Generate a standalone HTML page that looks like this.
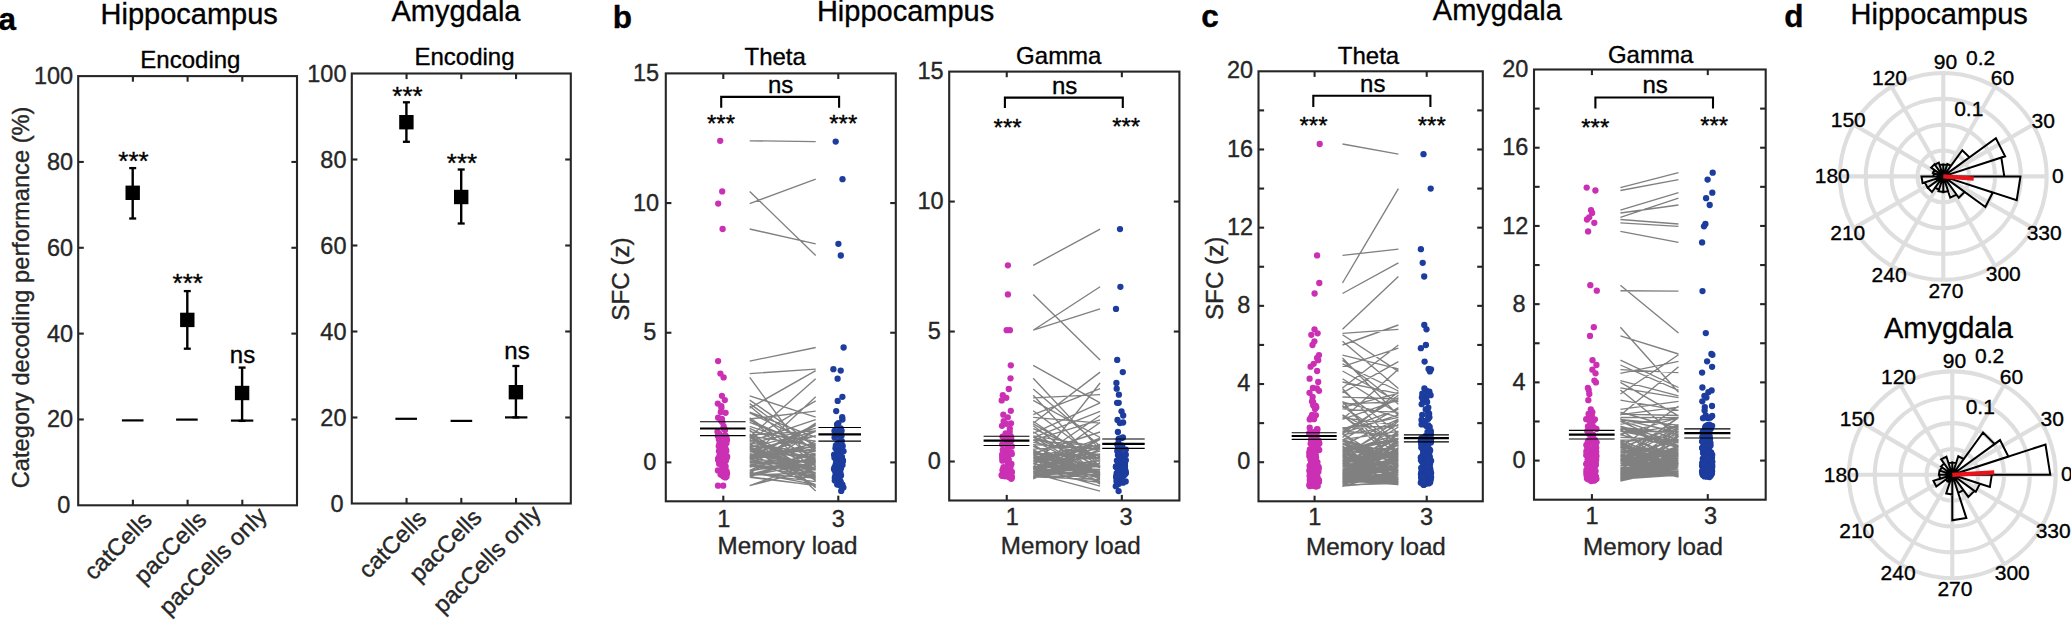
<!DOCTYPE html>
<html><head><meta charset="utf-8"><title>Figure</title>
<style>html,body{margin:0;padding:0;background:#fff;overflow:hidden}svg{display:block}text{font-family:"Liberation Sans",Arial,Helvetica,sans-serif;paint-order:stroke;stroke-width:0.35px;stroke-linejoin:round}</style>
</head><body>
<svg width="2071" height="620" viewBox="0 0 2071 620">
<rect width="2071" height="620" fill="#fff"/>
<rect x="78.20" y="76.10" width="218.80" height="429.20" fill="none" stroke="#262626" stroke-width="2.1"/>
<line x1="132.90" y1="505.30" x2="132.90" y2="499.70" stroke="#262626" stroke-width="2.1" stroke-linecap="butt"/>
<line x1="132.90" y1="76.10" x2="132.90" y2="81.70" stroke="#262626" stroke-width="2.1" stroke-linecap="butt"/>
<line x1="187.60" y1="505.30" x2="187.60" y2="499.70" stroke="#262626" stroke-width="2.1" stroke-linecap="butt"/>
<line x1="187.60" y1="76.10" x2="187.60" y2="81.70" stroke="#262626" stroke-width="2.1" stroke-linecap="butt"/>
<line x1="242.30" y1="505.30" x2="242.30" y2="499.70" stroke="#262626" stroke-width="2.1" stroke-linecap="butt"/>
<line x1="242.30" y1="76.10" x2="242.30" y2="81.70" stroke="#262626" stroke-width="2.1" stroke-linecap="butt"/>
<line x1="78.20" y1="419.46" x2="83.80" y2="419.46" stroke="#262626" stroke-width="2.1" stroke-linecap="butt"/>
<line x1="297.00" y1="419.46" x2="291.40" y2="419.46" stroke="#262626" stroke-width="2.1" stroke-linecap="butt"/>
<line x1="78.20" y1="333.62" x2="83.80" y2="333.62" stroke="#262626" stroke-width="2.1" stroke-linecap="butt"/>
<line x1="297.00" y1="333.62" x2="291.40" y2="333.62" stroke="#262626" stroke-width="2.1" stroke-linecap="butt"/>
<line x1="78.20" y1="247.78" x2="83.80" y2="247.78" stroke="#262626" stroke-width="2.1" stroke-linecap="butt"/>
<line x1="297.00" y1="247.78" x2="291.40" y2="247.78" stroke="#262626" stroke-width="2.1" stroke-linecap="butt"/>
<line x1="78.20" y1="161.94" x2="83.80" y2="161.94" stroke="#262626" stroke-width="2.1" stroke-linecap="butt"/>
<line x1="297.00" y1="161.94" x2="291.40" y2="161.94" stroke="#262626" stroke-width="2.1" stroke-linecap="butt"/>
<text x="70.30" y="513.30" font-size="23.5" text-anchor="end" fill="#262626" stroke="#262626">0</text>
<text x="73.10" y="427.46" font-size="23.5" text-anchor="end" fill="#262626" stroke="#262626">20</text>
<text x="73.10" y="341.62" font-size="23.5" text-anchor="end" fill="#262626" stroke="#262626">40</text>
<text x="73.10" y="255.78" font-size="23.5" text-anchor="end" fill="#262626" stroke="#262626">60</text>
<text x="73.10" y="169.94" font-size="23.5" text-anchor="end" fill="#262626" stroke="#262626">80</text>
<text x="73.10" y="84.10" font-size="23.5" text-anchor="end" fill="#262626" stroke="#262626">100</text>
<line x1="121.90" y1="420.40" x2="143.50" y2="420.40" stroke="#000" stroke-width="2.2" stroke-linecap="butt"/>
<line x1="176.10" y1="419.60" x2="197.70" y2="419.60" stroke="#000" stroke-width="2.2" stroke-linecap="butt"/>
<line x1="230.90" y1="420.60" x2="253.30" y2="420.60" stroke="#000" stroke-width="2.2" stroke-linecap="butt"/>
<line x1="132.70" y1="168.10" x2="132.70" y2="218.50" stroke="#000" stroke-width="2.4" stroke-linecap="butt"/>
<line x1="129.20" y1="168.10" x2="136.20" y2="168.10" stroke="#000" stroke-width="2.3" stroke-linecap="butt"/>
<line x1="129.20" y1="218.50" x2="136.20" y2="218.50" stroke="#000" stroke-width="2.3" stroke-linecap="butt"/>
<rect x="125.50" y="185.60" width="14.4" height="14.4" fill="#000"/>
<line x1="187.30" y1="291.10" x2="187.30" y2="348.70" stroke="#000" stroke-width="2.4" stroke-linecap="butt"/>
<line x1="183.80" y1="291.10" x2="190.80" y2="291.10" stroke="#000" stroke-width="2.3" stroke-linecap="butt"/>
<line x1="183.80" y1="348.70" x2="190.80" y2="348.70" stroke="#000" stroke-width="2.3" stroke-linecap="butt"/>
<rect x="180.10" y="312.70" width="14.4" height="14.4" fill="#000"/>
<line x1="242.10" y1="367.60" x2="242.10" y2="420.90" stroke="#000" stroke-width="2.4" stroke-linecap="butt"/>
<line x1="238.60" y1="367.60" x2="245.60" y2="367.60" stroke="#000" stroke-width="2.3" stroke-linecap="butt"/>
<line x1="238.60" y1="420.90" x2="245.60" y2="420.90" stroke="#000" stroke-width="2.3" stroke-linecap="butt"/>
<rect x="234.90" y="385.80" width="14.4" height="14.4" fill="#000"/>
<text x="133.50" y="170.00" font-size="26" text-anchor="middle" fill="#000" stroke="#000">***</text>
<text x="187.80" y="292.30" font-size="26" text-anchor="middle" fill="#000" stroke="#000">***</text>
<text x="242.50" y="362.80" font-size="24" text-anchor="middle" fill="#000" stroke="#000">ns</text>
<text x="190.40" y="67.70" font-size="24.0" text-anchor="middle" fill="#000" stroke="#000">Encoding</text>
<text x="153.30" y="521.70" font-size="23.7" text-anchor="end" fill="#262626" stroke="#262626" transform="rotate(-45 153.30 521.70)">catCells</text>
<text x="208.00" y="521.20" font-size="23.7" text-anchor="end" fill="#262626" stroke="#262626" transform="rotate(-45 208.00 521.20)">pacCells</text>
<text x="268.30" y="517.00" font-size="23.7" text-anchor="end" fill="#262626" stroke="#262626" transform="rotate(-45 268.30 517.00)">pacCells only</text>
<text x="29.2" y="488.3" font-size="23.7" fill="#262626" stroke="#262626" transform="rotate(-90 29.2 488.3)">Category decoding performance (%)</text>
<rect x="351.80" y="73.50" width="219.00" height="430.00" fill="none" stroke="#262626" stroke-width="2.1"/>
<line x1="406.55" y1="503.50" x2="406.55" y2="497.90" stroke="#262626" stroke-width="2.1" stroke-linecap="butt"/>
<line x1="406.55" y1="73.50" x2="406.55" y2="79.10" stroke="#262626" stroke-width="2.1" stroke-linecap="butt"/>
<line x1="461.30" y1="503.50" x2="461.30" y2="497.90" stroke="#262626" stroke-width="2.1" stroke-linecap="butt"/>
<line x1="461.30" y1="73.50" x2="461.30" y2="79.10" stroke="#262626" stroke-width="2.1" stroke-linecap="butt"/>
<line x1="516.05" y1="503.50" x2="516.05" y2="497.90" stroke="#262626" stroke-width="2.1" stroke-linecap="butt"/>
<line x1="516.05" y1="73.50" x2="516.05" y2="79.10" stroke="#262626" stroke-width="2.1" stroke-linecap="butt"/>
<line x1="351.80" y1="417.50" x2="357.40" y2="417.50" stroke="#262626" stroke-width="2.1" stroke-linecap="butt"/>
<line x1="570.80" y1="417.50" x2="565.20" y2="417.50" stroke="#262626" stroke-width="2.1" stroke-linecap="butt"/>
<line x1="351.80" y1="331.50" x2="357.40" y2="331.50" stroke="#262626" stroke-width="2.1" stroke-linecap="butt"/>
<line x1="570.80" y1="331.50" x2="565.20" y2="331.50" stroke="#262626" stroke-width="2.1" stroke-linecap="butt"/>
<line x1="351.80" y1="245.50" x2="357.40" y2="245.50" stroke="#262626" stroke-width="2.1" stroke-linecap="butt"/>
<line x1="570.80" y1="245.50" x2="565.20" y2="245.50" stroke="#262626" stroke-width="2.1" stroke-linecap="butt"/>
<line x1="351.80" y1="159.50" x2="357.40" y2="159.50" stroke="#262626" stroke-width="2.1" stroke-linecap="butt"/>
<line x1="570.80" y1="159.50" x2="565.20" y2="159.50" stroke="#262626" stroke-width="2.1" stroke-linecap="butt"/>
<text x="343.70" y="511.50" font-size="23.5" text-anchor="end" fill="#262626" stroke="#262626">0</text>
<text x="346.50" y="425.50" font-size="23.5" text-anchor="end" fill="#262626" stroke="#262626">20</text>
<text x="346.50" y="339.50" font-size="23.5" text-anchor="end" fill="#262626" stroke="#262626">40</text>
<text x="346.50" y="253.50" font-size="23.5" text-anchor="end" fill="#262626" stroke="#262626">60</text>
<text x="346.50" y="167.50" font-size="23.5" text-anchor="end" fill="#262626" stroke="#262626">80</text>
<text x="346.50" y="81.50" font-size="23.5" text-anchor="end" fill="#262626" stroke="#262626">100</text>
<line x1="395.40" y1="418.80" x2="417.00" y2="418.80" stroke="#000" stroke-width="2.2" stroke-linecap="butt"/>
<line x1="450.60" y1="420.90" x2="472.20" y2="420.90" stroke="#000" stroke-width="2.2" stroke-linecap="butt"/>
<line x1="505.00" y1="417.40" x2="527.40" y2="417.40" stroke="#000" stroke-width="2.2" stroke-linecap="butt"/>
<line x1="406.40" y1="102.30" x2="406.40" y2="141.80" stroke="#000" stroke-width="2.4" stroke-linecap="butt"/>
<line x1="402.90" y1="102.30" x2="409.90" y2="102.30" stroke="#000" stroke-width="2.3" stroke-linecap="butt"/>
<line x1="402.90" y1="141.80" x2="409.90" y2="141.80" stroke="#000" stroke-width="2.3" stroke-linecap="butt"/>
<rect x="399.20" y="115.00" width="14.4" height="14.4" fill="#000"/>
<line x1="461.20" y1="169.50" x2="461.20" y2="223.50" stroke="#000" stroke-width="2.4" stroke-linecap="butt"/>
<line x1="457.70" y1="169.50" x2="464.70" y2="169.50" stroke="#000" stroke-width="2.3" stroke-linecap="butt"/>
<line x1="457.70" y1="223.50" x2="464.70" y2="223.50" stroke="#000" stroke-width="2.3" stroke-linecap="butt"/>
<rect x="454.00" y="189.80" width="14.4" height="14.4" fill="#000"/>
<line x1="515.90" y1="366.00" x2="515.90" y2="417.40" stroke="#000" stroke-width="2.4" stroke-linecap="butt"/>
<line x1="512.40" y1="366.00" x2="519.40" y2="366.00" stroke="#000" stroke-width="2.3" stroke-linecap="butt"/>
<line x1="512.40" y1="417.40" x2="519.40" y2="417.40" stroke="#000" stroke-width="2.3" stroke-linecap="butt"/>
<rect x="508.70" y="385.00" width="14.4" height="14.4" fill="#000"/>
<text x="407.50" y="104.50" font-size="26" text-anchor="middle" fill="#000" stroke="#000">***</text>
<text x="462.00" y="171.50" font-size="26" text-anchor="middle" fill="#000" stroke="#000">***</text>
<text x="517.00" y="358.70" font-size="24" text-anchor="middle" fill="#000" stroke="#000">ns</text>
<text x="464.50" y="64.70" font-size="24.0" text-anchor="middle" fill="#000" stroke="#000">Encoding</text>
<text x="427.90" y="519.80" font-size="23.7" text-anchor="end" fill="#262626" stroke="#262626" transform="rotate(-45 427.90 519.80)">catCells</text>
<text x="483.20" y="518.90" font-size="23.7" text-anchor="end" fill="#262626" stroke="#262626" transform="rotate(-45 483.20 518.90)">pacCells</text>
<text x="542.50" y="515.20" font-size="23.7" text-anchor="end" fill="#262626" stroke="#262626" transform="rotate(-45 542.50 515.20)">pacCells only</text>
<text x="189.20" y="23.60" font-size="29.0" text-anchor="middle" fill="#000" stroke="#000">Hippocampus</text>
<text x="456.00" y="21.20" font-size="29.0" text-anchor="middle" fill="#000" stroke="#000">Amygdala</text>
<text x="905.60" y="20.70" font-size="29.0" text-anchor="middle" fill="#000" stroke="#000">Hippocampus</text>
<text x="1497.30" y="20.30" font-size="29.0" text-anchor="middle" fill="#000" stroke="#000">Amygdala</text>
<text x="1939.20" y="24.20" font-size="29.0" text-anchor="middle" fill="#000" stroke="#000">Hippocampus</text>
<text x="-1.50" y="29.80" font-size="31.5" text-anchor="start" fill="#000" stroke="#000" font-weight="bold">a</text>
<text x="612.80" y="27.70" font-size="31.5" text-anchor="start" fill="#000" stroke="#000" font-weight="bold">b</text>
<text x="1201.30" y="27.10" font-size="31.5" text-anchor="start" fill="#000" stroke="#000" font-weight="bold">c</text>
<text x="1784.30" y="27.40" font-size="31.5" text-anchor="start" fill="#000" stroke="#000" font-weight="bold">d</text>
<path d="M749.7 361.1L815.7 347.5M749.7 373.6L815.7 369.2M749.7 140.8L815.7 141.6M749.7 203.6L815.7 179.2M749.7 191.4L815.7 255.5M749.7 229.0L815.7 243.8M749.7 477.4L815.7 485.3M749.7 442.9L815.7 453.9M749.7 460.6L815.7 468.8M749.7 473.4L815.7 430.2M749.7 462.2L815.7 461.9M749.7 459.7L815.7 462.1M749.7 475.8L815.7 463.0M749.7 473.4L815.7 481.6M749.7 463.8L815.7 472.7M749.7 458.6L815.7 479.5M749.7 434.0L815.7 468.9M749.7 472.2L815.7 484.6M749.7 460.6L815.7 484.6M749.7 453.9L815.7 463.1M749.7 447.0L815.7 470.0M749.7 473.3L815.7 478.2M749.7 458.1L815.7 443.5M749.7 459.6L815.7 431.4M749.7 406.1L815.7 460.3M749.7 435.4L815.7 473.7M749.7 449.6L815.7 435.7M749.7 454.2L815.7 454.7M749.7 476.4L815.7 450.0M749.7 429.9L815.7 490.9M749.7 443.3L815.7 428.4M749.7 451.0L815.7 457.3M749.7 412.1L815.7 437.4M749.7 460.5L815.7 468.1M749.7 465.0L815.7 470.0M749.7 467.0L815.7 455.4M749.7 439.4L815.7 400.9M749.7 485.7L815.7 461.5M749.7 444.8L815.7 457.8M749.7 457.6L815.7 435.6M749.7 470.7L815.7 458.0M749.7 446.2L815.7 450.8M749.7 471.2L815.7 459.4M749.7 435.6L815.7 480.6M749.7 475.3L815.7 472.3M749.7 443.7L815.7 477.3M749.7 446.2L815.7 451.5M749.7 451.2L815.7 467.9M749.7 456.4L815.7 424.4M749.7 451.6L815.7 463.8M749.7 465.5L815.7 476.9M749.7 485.7L815.7 468.5M749.7 466.5L815.7 467.1M749.7 447.8L815.7 487.1M749.7 474.5L815.7 456.8M749.7 457.2L815.7 470.1M749.7 458.9L815.7 448.5M749.7 377.4L815.7 467.0M749.7 449.4L815.7 469.8M749.7 419.3L815.7 469.7M749.7 426.4L815.7 448.2M749.7 470.4L815.7 441.2M749.7 452.1L815.7 430.7M749.7 420.4L815.7 448.7M749.7 441.6L815.7 419.6M749.7 458.0L815.7 396.8M749.7 455.6L815.7 463.2M749.7 436.8L815.7 475.4M749.7 449.9L815.7 458.9M749.7 447.5L815.7 476.3M749.7 422.3L815.7 447.8M749.7 447.3L815.7 431.7M749.7 456.4L815.7 446.1M749.7 428.4L815.7 457.7M749.7 395.8L815.7 417.2M749.7 463.2L815.7 465.0M749.7 408.1L815.7 370.6M749.7 455.8L815.7 477.7M749.7 437.1L815.7 378.7M749.7 435.9L815.7 445.9M749.7 476.6L815.7 485.7M749.7 440.0L815.7 461.1M749.7 419.0L815.7 411.1M749.7 417.7L815.7 463.2M749.7 459.4L815.7 446.0M749.7 431.7L815.7 441.1M749.7 400.1L815.7 445.5M749.7 435.0L815.7 430.9M749.7 476.5L815.7 456.7M749.7 457.7L815.7 425.3M749.7 403.6L815.7 451.2M749.7 436.9L815.7 487.6M749.7 465.9L815.7 423.1M749.7 412.8L815.7 445.3" stroke="#808080" stroke-width="1.35" fill="none"/>
<g fill="#cb30b4"><circle cx="718.1" cy="361.1" r="3.15"/><circle cx="720.4" cy="373.6" r="3.15"/><circle cx="720.2" cy="140.8" r="3.15"/><circle cx="718.2" cy="203.6" r="3.15"/><circle cx="722.2" cy="191.4" r="3.15"/><circle cx="722.6" cy="229.0" r="3.15"/><circle cx="725.4" cy="477.4" r="3.15"/><circle cx="720.0" cy="442.9" r="3.15"/><circle cx="725.7" cy="460.6" r="3.15"/><circle cx="727.0" cy="473.4" r="3.15"/><circle cx="719.2" cy="462.2" r="3.15"/><circle cx="718.2" cy="459.7" r="3.15"/><circle cx="723.0" cy="475.8" r="3.15"/><circle cx="726.0" cy="473.4" r="3.15"/><circle cx="719.1" cy="463.8" r="3.15"/><circle cx="718.1" cy="458.6" r="3.15"/><circle cx="719.3" cy="434.0" r="3.15"/><circle cx="725.4" cy="472.2" r="3.15"/><circle cx="718.6" cy="460.6" r="3.15"/><circle cx="721.5" cy="453.9" r="3.15"/><circle cx="721.5" cy="447.0" r="3.15"/><circle cx="724.8" cy="473.3" r="3.15"/><circle cx="720.8" cy="458.1" r="3.15"/><circle cx="719.0" cy="459.6" r="3.15"/><circle cx="721.3" cy="406.1" r="3.15"/><circle cx="725.4" cy="435.4" r="3.15"/><circle cx="719.8" cy="449.6" r="3.15"/><circle cx="722.9" cy="454.2" r="3.15"/><circle cx="723.5" cy="476.4" r="3.15"/><circle cx="725.0" cy="429.9" r="3.15"/><circle cx="726.4" cy="443.3" r="3.15"/><circle cx="726.3" cy="451.0" r="3.15"/><circle cx="720.8" cy="412.1" r="3.15"/><circle cx="725.8" cy="460.5" r="3.15"/><circle cx="722.8" cy="465.0" r="3.15"/><circle cx="725.3" cy="467.0" r="3.15"/><circle cx="718.9" cy="439.4" r="3.15"/><circle cx="718.0" cy="485.7" r="3.15"/><circle cx="723.5" cy="444.8" r="3.15"/><circle cx="727.0" cy="457.6" r="3.15"/><circle cx="720.4" cy="470.7" r="3.15"/><circle cx="718.8" cy="446.2" r="3.15"/><circle cx="726.5" cy="471.2" r="3.15"/><circle cx="724.5" cy="435.6" r="3.15"/><circle cx="722.6" cy="475.3" r="3.15"/><circle cx="719.5" cy="443.7" r="3.15"/><circle cx="722.8" cy="446.2" r="3.15"/><circle cx="719.0" cy="451.2" r="3.15"/><circle cx="727.1" cy="456.4" r="3.15"/><circle cx="725.0" cy="451.6" r="3.15"/><circle cx="721.9" cy="465.5" r="3.15"/><circle cx="723.2" cy="485.7" r="3.15"/><circle cx="725.1" cy="466.5" r="3.15"/><circle cx="725.2" cy="447.8" r="3.15"/><circle cx="720.6" cy="474.5" r="3.15"/><circle cx="722.5" cy="457.2" r="3.15"/><circle cx="719.2" cy="458.9" r="3.15"/><circle cx="723.6" cy="377.4" r="3.15"/><circle cx="723.1" cy="449.4" r="3.15"/><circle cx="721.3" cy="419.3" r="3.15"/><circle cx="723.7" cy="426.4" r="3.15"/><circle cx="717.9" cy="470.4" r="3.15"/><circle cx="725.4" cy="452.1" r="3.15"/><circle cx="721.0" cy="420.4" r="3.15"/><circle cx="724.4" cy="441.6" r="3.15"/><circle cx="722.2" cy="458.0" r="3.15"/><circle cx="720.6" cy="455.6" r="3.15"/><circle cx="720.3" cy="436.8" r="3.15"/><circle cx="726.0" cy="449.9" r="3.15"/><circle cx="724.2" cy="447.5" r="3.15"/><circle cx="722.4" cy="422.3" r="3.15"/><circle cx="721.6" cy="447.3" r="3.15"/><circle cx="723.5" cy="456.4" r="3.15"/><circle cx="723.6" cy="428.4" r="3.15"/><circle cx="721.9" cy="395.8" r="3.15"/><circle cx="723.0" cy="463.2" r="3.15"/><circle cx="721.4" cy="408.1" r="3.15"/><circle cx="719.4" cy="455.8" r="3.15"/><circle cx="726.4" cy="437.1" r="3.15"/><circle cx="717.9" cy="435.9" r="3.15"/><circle cx="726.5" cy="476.6" r="3.15"/><circle cx="727.0" cy="440.0" r="3.15"/><circle cx="721.9" cy="419.0" r="3.15"/><circle cx="718.1" cy="417.7" r="3.15"/><circle cx="723.6" cy="459.4" r="3.15"/><circle cx="717.5" cy="431.7" r="3.15"/><circle cx="724.8" cy="400.1" r="3.15"/><circle cx="718.7" cy="435.0" r="3.15"/><circle cx="724.6" cy="476.5" r="3.15"/><circle cx="721.1" cy="457.7" r="3.15"/><circle cx="717.8" cy="403.6" r="3.15"/><circle cx="725.5" cy="436.9" r="3.15"/><circle cx="725.4" cy="465.9" r="3.15"/><circle cx="725.6" cy="412.8" r="3.15"/></g>
<g fill="#1c3c9e"><circle cx="843.6" cy="347.5" r="3.15"/><circle cx="833.4" cy="369.2" r="3.15"/><circle cx="835.7" cy="141.6" r="3.15"/><circle cx="842.5" cy="179.2" r="3.15"/><circle cx="840.8" cy="255.5" r="3.15"/><circle cx="838.4" cy="243.8" r="3.15"/><circle cx="839.9" cy="485.3" r="3.15"/><circle cx="838.3" cy="453.9" r="3.15"/><circle cx="834.0" cy="468.8" r="3.15"/><circle cx="839.4" cy="430.2" r="3.15"/><circle cx="841.7" cy="461.9" r="3.15"/><circle cx="837.9" cy="462.1" r="3.15"/><circle cx="836.4" cy="463.0" r="3.15"/><circle cx="840.7" cy="481.6" r="3.15"/><circle cx="835.5" cy="472.7" r="3.15"/><circle cx="839.5" cy="479.5" r="3.15"/><circle cx="839.2" cy="468.9" r="3.15"/><circle cx="842.4" cy="484.6" r="3.15"/><circle cx="837.2" cy="484.6" r="3.15"/><circle cx="837.7" cy="463.1" r="3.15"/><circle cx="838.4" cy="470.0" r="3.15"/><circle cx="836.9" cy="478.2" r="3.15"/><circle cx="837.7" cy="443.5" r="3.15"/><circle cx="840.1" cy="431.4" r="3.15"/><circle cx="842.8" cy="460.3" r="3.15"/><circle cx="836.2" cy="473.7" r="3.15"/><circle cx="841.5" cy="435.7" r="3.15"/><circle cx="834.1" cy="454.7" r="3.15"/><circle cx="837.8" cy="450.0" r="3.15"/><circle cx="841.2" cy="490.9" r="3.15"/><circle cx="840.7" cy="428.4" r="3.15"/><circle cx="836.7" cy="457.3" r="3.15"/><circle cx="834.6" cy="437.4" r="3.15"/><circle cx="835.5" cy="468.1" r="3.15"/><circle cx="838.9" cy="470.0" r="3.15"/><circle cx="837.7" cy="455.4" r="3.15"/><circle cx="837.7" cy="400.9" r="3.15"/><circle cx="836.9" cy="461.5" r="3.15"/><circle cx="834.5" cy="457.8" r="3.15"/><circle cx="839.1" cy="435.6" r="3.15"/><circle cx="842.0" cy="458.0" r="3.15"/><circle cx="837.1" cy="450.8" r="3.15"/><circle cx="836.3" cy="459.4" r="3.15"/><circle cx="834.8" cy="480.6" r="3.15"/><circle cx="840.3" cy="472.3" r="3.15"/><circle cx="837.1" cy="477.3" r="3.15"/><circle cx="839.7" cy="451.5" r="3.15"/><circle cx="837.9" cy="467.9" r="3.15"/><circle cx="837.1" cy="424.4" r="3.15"/><circle cx="835.9" cy="463.8" r="3.15"/><circle cx="839.0" cy="476.9" r="3.15"/><circle cx="840.9" cy="468.5" r="3.15"/><circle cx="840.7" cy="467.1" r="3.15"/><circle cx="842.5" cy="487.1" r="3.15"/><circle cx="841.9" cy="456.8" r="3.15"/><circle cx="836.5" cy="470.1" r="3.15"/><circle cx="841.3" cy="448.5" r="3.15"/><circle cx="834.7" cy="467.0" r="3.15"/><circle cx="834.4" cy="469.8" r="3.15"/><circle cx="839.5" cy="469.7" r="3.15"/><circle cx="835.5" cy="448.2" r="3.15"/><circle cx="839.5" cy="441.2" r="3.15"/><circle cx="841.6" cy="430.7" r="3.15"/><circle cx="839.5" cy="448.7" r="3.15"/><circle cx="842.4" cy="419.6" r="3.15"/><circle cx="842.4" cy="396.8" r="3.15"/><circle cx="836.1" cy="463.2" r="3.15"/><circle cx="841.0" cy="475.4" r="3.15"/><circle cx="838.5" cy="458.9" r="3.15"/><circle cx="835.3" cy="476.3" r="3.15"/><circle cx="838.2" cy="447.8" r="3.15"/><circle cx="835.8" cy="431.7" r="3.15"/><circle cx="840.5" cy="446.1" r="3.15"/><circle cx="841.1" cy="457.7" r="3.15"/><circle cx="842.2" cy="417.2" r="3.15"/><circle cx="842.5" cy="465.0" r="3.15"/><circle cx="840.7" cy="370.6" r="3.15"/><circle cx="834.8" cy="477.7" r="3.15"/><circle cx="837.6" cy="378.7" r="3.15"/><circle cx="839.9" cy="445.9" r="3.15"/><circle cx="841.4" cy="485.7" r="3.15"/><circle cx="843.0" cy="461.1" r="3.15"/><circle cx="836.2" cy="411.1" r="3.15"/><circle cx="836.6" cy="463.2" r="3.15"/><circle cx="842.7" cy="446.0" r="3.15"/><circle cx="841.8" cy="441.1" r="3.15"/><circle cx="840.6" cy="445.5" r="3.15"/><circle cx="834.5" cy="430.9" r="3.15"/><circle cx="840.2" cy="456.7" r="3.15"/><circle cx="837.3" cy="425.3" r="3.15"/><circle cx="843.5" cy="451.2" r="3.15"/><circle cx="843.4" cy="487.6" r="3.15"/><circle cx="838.4" cy="423.1" r="3.15"/><circle cx="835.9" cy="445.3" r="3.15"/></g>
<line x1="700.00" y1="421.70" x2="745.60" y2="421.70" stroke="#000" stroke-width="1.15" stroke-linecap="butt"/>
<line x1="700.00" y1="428.50" x2="745.60" y2="428.50" stroke="#000" stroke-width="2.2" stroke-linecap="butt"/>
<line x1="700.00" y1="435.60" x2="745.60" y2="435.60" stroke="#000" stroke-width="1.15" stroke-linecap="butt"/>
<line x1="818.40" y1="427.50" x2="861.00" y2="427.50" stroke="#000" stroke-width="1.15" stroke-linecap="butt"/>
<line x1="818.40" y1="434.30" x2="861.00" y2="434.30" stroke="#000" stroke-width="2.2" stroke-linecap="butt"/>
<line x1="818.40" y1="441.10" x2="861.00" y2="441.10" stroke="#000" stroke-width="1.15" stroke-linecap="butt"/>
<rect x="665.80" y="73.40" width="230.00" height="427.90" fill="none" stroke="#262626" stroke-width="2.1"/>
<line x1="723.30" y1="501.30" x2="723.30" y2="495.70" stroke="#262626" stroke-width="2.1" stroke-linecap="butt"/>
<line x1="723.30" y1="73.40" x2="723.30" y2="79.00" stroke="#262626" stroke-width="2.1" stroke-linecap="butt"/>
<line x1="838.30" y1="501.30" x2="838.30" y2="495.70" stroke="#262626" stroke-width="2.1" stroke-linecap="butt"/>
<line x1="838.30" y1="73.40" x2="838.30" y2="79.00" stroke="#262626" stroke-width="2.1" stroke-linecap="butt"/>
<line x1="665.80" y1="462.40" x2="671.40" y2="462.40" stroke="#262626" stroke-width="2.1" stroke-linecap="butt"/>
<line x1="895.80" y1="462.40" x2="890.20" y2="462.40" stroke="#262626" stroke-width="2.1" stroke-linecap="butt"/>
<line x1="665.80" y1="332.73" x2="671.40" y2="332.73" stroke="#262626" stroke-width="2.1" stroke-linecap="butt"/>
<line x1="895.80" y1="332.73" x2="890.20" y2="332.73" stroke="#262626" stroke-width="2.1" stroke-linecap="butt"/>
<line x1="665.80" y1="203.07" x2="671.40" y2="203.07" stroke="#262626" stroke-width="2.1" stroke-linecap="butt"/>
<line x1="895.80" y1="203.07" x2="890.20" y2="203.07" stroke="#262626" stroke-width="2.1" stroke-linecap="butt"/>
<text x="656.30" y="470.10" font-size="23.5" text-anchor="end" fill="#262626" stroke="#262626">0</text>
<text x="656.30" y="340.43" font-size="23.5" text-anchor="end" fill="#262626" stroke="#262626">5</text>
<text x="659.10" y="210.77" font-size="23.5" text-anchor="end" fill="#262626" stroke="#262626">10</text>
<text x="659.10" y="81.10" font-size="23.5" text-anchor="end" fill="#262626" stroke="#262626">15</text>
<text x="775.20" y="64.50" font-size="24.0" text-anchor="middle" fill="#000" stroke="#000">Theta</text>
<text x="723.90" y="527.00" font-size="23.5" text-anchor="middle" fill="#262626" stroke="#262626">1</text>
<text x="838.30" y="527.00" font-size="23.5" text-anchor="middle" fill="#262626" stroke="#262626">3</text>
<text x="787.50" y="554.30" font-size="24.2" text-anchor="middle" fill="#262626" stroke="#262626">Memory load</text>
<path d="M721.2 107.8V96.9H839.1V107.8" stroke="#000" stroke-width="2.1" fill="none"/>
<text x="780.60" y="92.90" font-size="24" text-anchor="middle" fill="#000" stroke="#000">ns</text>
<text x="721.00" y="132.10" font-size="24" text-anchor="middle" fill="#000" stroke="#000">***</text>
<text x="843.30" y="132.10" font-size="24" text-anchor="middle" fill="#000" stroke="#000">***</text>
<text x="629.2" y="320.7" font-size="24.2" fill="#262626" stroke="#262626" transform="rotate(-90 629.2 320.7)">SFC (z)</text>
<path d="M1033.2 265.3L1100.1 229.1M1033.2 294.4L1100.1 359.9M1033.2 330.2L1100.1 286.8M1033.2 330.2L1100.1 308.9M1033.2 473.2L1100.1 474.8M1033.2 470.5L1100.1 475.8M1033.2 470.2L1100.1 466.4M1033.2 469.2L1100.1 469.6M1033.2 450.9L1100.1 472.9M1033.2 473.7L1100.1 482.7M1033.2 475.9L1100.1 464.5M1033.2 467.2L1100.1 486.2M1033.2 473.4L1100.1 491.1M1033.2 446.4L1100.1 476.0M1033.2 452.6L1100.1 475.1M1033.2 476.9L1100.1 479.6M1033.2 454.1L1100.1 458.5M1033.2 456.0L1100.1 473.8M1033.2 474.4L1100.1 459.6M1033.2 444.5L1100.1 484.1M1033.2 469.6L1100.1 471.1M1033.2 466.9L1100.1 451.0M1033.2 477.0L1100.1 464.0M1033.2 455.8L1100.1 481.4M1033.2 478.1L1100.1 444.7M1033.2 463.9L1100.1 470.7M1033.2 469.8L1100.1 474.8M1033.2 477.4L1100.1 474.3M1033.2 475.3L1100.1 471.9M1033.2 473.5L1100.1 472.1M1033.2 455.3L1100.1 473.1M1033.2 475.2L1100.1 470.1M1033.2 458.1L1100.1 478.1M1033.2 440.2L1100.1 475.1M1033.2 476.3L1100.1 469.4M1033.2 467.6L1100.1 460.6M1033.2 466.5L1100.1 481.5M1033.2 478.8L1100.1 449.0M1033.2 457.6L1100.1 448.9M1033.2 437.4L1100.1 455.1M1033.2 475.2L1100.1 439.5M1033.2 440.4L1100.1 446.4M1033.2 446.0L1100.1 475.2M1033.2 468.7L1100.1 454.7M1033.2 461.1L1100.1 473.9M1033.2 463.7L1100.1 438.1M1033.2 468.5L1100.1 463.5M1033.2 468.3L1100.1 447.2M1033.2 472.4L1100.1 463.5M1033.2 428.6L1100.1 457.2M1033.2 421.2L1100.1 466.4M1033.2 459.9L1100.1 458.3M1033.2 449.8L1100.1 479.5M1033.2 471.9L1100.1 466.4M1033.2 454.4L1100.1 454.7M1033.2 389.0L1100.1 445.9M1033.2 455.2L1100.1 470.8M1033.2 458.0L1100.1 464.1M1033.2 475.6L1100.1 476.9M1033.2 442.3L1100.1 455.5M1033.2 461.8L1100.1 444.4M1033.2 444.6L1100.1 448.6M1033.2 425.8L1100.1 474.9M1033.2 455.1L1100.1 447.2M1033.2 453.5L1100.1 432.0M1033.2 467.3L1100.1 453.8M1033.2 436.7L1100.1 466.6M1033.2 460.0L1100.1 472.6M1033.2 471.6L1100.1 438.7M1033.2 437.1L1100.1 475.0M1033.2 452.4L1100.1 467.7M1033.2 431.8L1100.1 475.0M1033.2 435.8L1100.1 446.8M1033.2 469.1L1100.1 422.5M1033.2 440.2L1100.1 419.9M1033.2 449.1L1100.1 445.6M1033.2 467.4L1100.1 383.0M1033.2 437.6L1100.1 411.3M1033.2 466.8L1100.1 469.4M1033.2 410.8L1100.1 460.2M1033.2 460.7L1100.1 415.5M1033.2 433.3L1100.1 402.8M1033.2 454.2L1100.1 457.7M1033.2 400.4L1100.1 437.5M1033.2 423.8L1100.1 462.1M1033.2 378.3L1100.1 449.6M1033.2 397.8L1100.1 394.7M1033.2 417.3L1100.1 423.1M1033.2 365.3L1100.1 402.8M1033.2 395.2L1100.1 467.0M1033.2 414.7L1100.1 388.7M1033.2 423.3L1100.1 372.1" stroke="#808080" stroke-width="1.35" fill="none"/>
<g fill="#cb30b4"><circle cx="1007.9" cy="265.3" r="3.15"/><circle cx="1007.9" cy="294.4" r="3.15"/><circle cx="1006.7" cy="330.2" r="3.15"/><circle cx="1009.9" cy="330.2" r="3.15"/><circle cx="1005.2" cy="473.2" r="3.15"/><circle cx="1002.8" cy="470.5" r="3.15"/><circle cx="1003.0" cy="470.2" r="3.15"/><circle cx="1009.6" cy="469.2" r="3.15"/><circle cx="1006.9" cy="450.9" r="3.15"/><circle cx="1004.2" cy="473.7" r="3.15"/><circle cx="1002.4" cy="475.9" r="3.15"/><circle cx="1003.5" cy="467.2" r="3.15"/><circle cx="1011.0" cy="473.4" r="3.15"/><circle cx="1011.8" cy="446.4" r="3.15"/><circle cx="1008.5" cy="452.6" r="3.15"/><circle cx="1011.8" cy="476.9" r="3.15"/><circle cx="1011.8" cy="454.1" r="3.15"/><circle cx="1002.5" cy="456.0" r="3.15"/><circle cx="1002.5" cy="474.4" r="3.15"/><circle cx="1010.2" cy="444.5" r="3.15"/><circle cx="1009.0" cy="469.6" r="3.15"/><circle cx="1008.7" cy="466.9" r="3.15"/><circle cx="1008.8" cy="477.0" r="3.15"/><circle cx="1003.0" cy="455.8" r="3.15"/><circle cx="1011.4" cy="478.1" r="3.15"/><circle cx="1011.4" cy="463.9" r="3.15"/><circle cx="1002.7" cy="469.8" r="3.15"/><circle cx="1011.5" cy="477.4" r="3.15"/><circle cx="1002.9" cy="475.3" r="3.15"/><circle cx="1007.4" cy="473.5" r="3.15"/><circle cx="1005.5" cy="455.3" r="3.15"/><circle cx="1001.6" cy="475.2" r="3.15"/><circle cx="1005.9" cy="458.1" r="3.15"/><circle cx="1011.4" cy="440.2" r="3.15"/><circle cx="1005.1" cy="476.3" r="3.15"/><circle cx="1010.1" cy="467.6" r="3.15"/><circle cx="1008.5" cy="466.5" r="3.15"/><circle cx="1011.3" cy="478.8" r="3.15"/><circle cx="1007.8" cy="457.6" r="3.15"/><circle cx="1006.8" cy="437.4" r="3.15"/><circle cx="1005.2" cy="475.2" r="3.15"/><circle cx="1007.9" cy="440.4" r="3.15"/><circle cx="1007.7" cy="446.0" r="3.15"/><circle cx="1008.4" cy="468.7" r="3.15"/><circle cx="1007.0" cy="461.1" r="3.15"/><circle cx="1007.9" cy="463.7" r="3.15"/><circle cx="1005.8" cy="468.5" r="3.15"/><circle cx="1007.1" cy="468.3" r="3.15"/><circle cx="1008.4" cy="472.4" r="3.15"/><circle cx="1009.8" cy="428.6" r="3.15"/><circle cx="1003.7" cy="421.2" r="3.15"/><circle cx="1003.6" cy="459.9" r="3.15"/><circle cx="1002.8" cy="449.8" r="3.15"/><circle cx="1011.9" cy="471.9" r="3.15"/><circle cx="1002.2" cy="454.4" r="3.15"/><circle cx="1008.8" cy="389.0" r="3.15"/><circle cx="1002.9" cy="455.2" r="3.15"/><circle cx="1002.2" cy="458.0" r="3.15"/><circle cx="1011.3" cy="475.6" r="3.15"/><circle cx="1007.4" cy="442.3" r="3.15"/><circle cx="1008.2" cy="461.8" r="3.15"/><circle cx="1002.2" cy="444.6" r="3.15"/><circle cx="1002.0" cy="425.8" r="3.15"/><circle cx="1006.9" cy="455.1" r="3.15"/><circle cx="1009.5" cy="453.5" r="3.15"/><circle cx="1006.8" cy="467.3" r="3.15"/><circle cx="1002.6" cy="436.7" r="3.15"/><circle cx="1008.8" cy="460.0" r="3.15"/><circle cx="1006.0" cy="471.6" r="3.15"/><circle cx="1011.2" cy="437.1" r="3.15"/><circle cx="1011.3" cy="452.4" r="3.15"/><circle cx="1009.7" cy="431.8" r="3.15"/><circle cx="1010.3" cy="435.8" r="3.15"/><circle cx="1010.1" cy="469.1" r="3.15"/><circle cx="1006.8" cy="440.2" r="3.15"/><circle cx="1007.7" cy="449.1" r="3.15"/><circle cx="1008.6" cy="467.4" r="3.15"/><circle cx="1004.1" cy="437.6" r="3.15"/><circle cx="1010.4" cy="466.8" r="3.15"/><circle cx="1010.8" cy="410.8" r="3.15"/><circle cx="1002.4" cy="460.7" r="3.15"/><circle cx="1005.6" cy="433.3" r="3.15"/><circle cx="1003.8" cy="454.2" r="3.15"/><circle cx="1001.7" cy="400.4" r="3.15"/><circle cx="1006.2" cy="423.8" r="3.15"/><circle cx="1010.5" cy="378.3" r="3.15"/><circle cx="1006.3" cy="397.8" r="3.15"/><circle cx="1007.8" cy="417.3" r="3.15"/><circle cx="1010.8" cy="365.3" r="3.15"/><circle cx="1002.8" cy="395.2" r="3.15"/><circle cx="1003.3" cy="414.7" r="3.15"/><circle cx="1011.0" cy="423.3" r="3.15"/></g>
<g fill="#1c3c9e"><circle cx="1120.0" cy="229.1" r="3.15"/><circle cx="1117.2" cy="359.9" r="3.15"/><circle cx="1120.4" cy="286.8" r="3.15"/><circle cx="1116.0" cy="308.9" r="3.15"/><circle cx="1122.3" cy="474.8" r="3.15"/><circle cx="1119.0" cy="475.8" r="3.15"/><circle cx="1125.0" cy="466.4" r="3.15"/><circle cx="1122.3" cy="469.6" r="3.15"/><circle cx="1125.9" cy="472.9" r="3.15"/><circle cx="1123.0" cy="482.7" r="3.15"/><circle cx="1122.2" cy="464.5" r="3.15"/><circle cx="1115.8" cy="486.2" r="3.15"/><circle cx="1118.6" cy="491.1" r="3.15"/><circle cx="1122.8" cy="476.0" r="3.15"/><circle cx="1122.7" cy="475.1" r="3.15"/><circle cx="1118.0" cy="479.6" r="3.15"/><circle cx="1119.0" cy="458.5" r="3.15"/><circle cx="1125.3" cy="473.8" r="3.15"/><circle cx="1120.6" cy="459.6" r="3.15"/><circle cx="1118.6" cy="484.1" r="3.15"/><circle cx="1122.4" cy="471.1" r="3.15"/><circle cx="1117.3" cy="451.0" r="3.15"/><circle cx="1124.4" cy="464.0" r="3.15"/><circle cx="1125.7" cy="481.4" r="3.15"/><circle cx="1119.0" cy="444.7" r="3.15"/><circle cx="1125.5" cy="470.7" r="3.15"/><circle cx="1123.4" cy="474.8" r="3.15"/><circle cx="1124.3" cy="474.3" r="3.15"/><circle cx="1119.9" cy="471.9" r="3.15"/><circle cx="1119.6" cy="472.1" r="3.15"/><circle cx="1116.7" cy="473.1" r="3.15"/><circle cx="1118.9" cy="470.1" r="3.15"/><circle cx="1121.7" cy="478.1" r="3.15"/><circle cx="1116.6" cy="475.1" r="3.15"/><circle cx="1124.7" cy="469.4" r="3.15"/><circle cx="1116.9" cy="460.6" r="3.15"/><circle cx="1116.6" cy="481.5" r="3.15"/><circle cx="1118.4" cy="449.0" r="3.15"/><circle cx="1120.6" cy="448.9" r="3.15"/><circle cx="1117.9" cy="455.1" r="3.15"/><circle cx="1118.6" cy="439.5" r="3.15"/><circle cx="1120.1" cy="446.4" r="3.15"/><circle cx="1121.3" cy="475.2" r="3.15"/><circle cx="1125.8" cy="454.7" r="3.15"/><circle cx="1121.4" cy="473.9" r="3.15"/><circle cx="1121.4" cy="438.1" r="3.15"/><circle cx="1118.3" cy="463.5" r="3.15"/><circle cx="1118.3" cy="447.2" r="3.15"/><circle cx="1124.9" cy="463.5" r="3.15"/><circle cx="1123.9" cy="457.2" r="3.15"/><circle cx="1116.0" cy="466.4" r="3.15"/><circle cx="1121.6" cy="458.3" r="3.15"/><circle cx="1116.7" cy="479.5" r="3.15"/><circle cx="1119.4" cy="466.4" r="3.15"/><circle cx="1121.0" cy="454.7" r="3.15"/><circle cx="1120.5" cy="445.9" r="3.15"/><circle cx="1121.1" cy="470.8" r="3.15"/><circle cx="1123.3" cy="464.1" r="3.15"/><circle cx="1116.1" cy="476.9" r="3.15"/><circle cx="1124.3" cy="455.5" r="3.15"/><circle cx="1117.3" cy="444.4" r="3.15"/><circle cx="1120.5" cy="448.6" r="3.15"/><circle cx="1124.4" cy="474.9" r="3.15"/><circle cx="1119.0" cy="447.2" r="3.15"/><circle cx="1117.9" cy="432.0" r="3.15"/><circle cx="1121.0" cy="453.8" r="3.15"/><circle cx="1124.0" cy="466.6" r="3.15"/><circle cx="1117.8" cy="472.6" r="3.15"/><circle cx="1118.9" cy="438.7" r="3.15"/><circle cx="1122.6" cy="475.0" r="3.15"/><circle cx="1123.7" cy="467.7" r="3.15"/><circle cx="1118.9" cy="475.0" r="3.15"/><circle cx="1119.2" cy="446.8" r="3.15"/><circle cx="1123.1" cy="422.5" r="3.15"/><circle cx="1117.5" cy="419.9" r="3.15"/><circle cx="1122.2" cy="445.6" r="3.15"/><circle cx="1116.4" cy="383.0" r="3.15"/><circle cx="1121.5" cy="411.3" r="3.15"/><circle cx="1118.1" cy="469.4" r="3.15"/><circle cx="1125.8" cy="460.2" r="3.15"/><circle cx="1123.2" cy="415.5" r="3.15"/><circle cx="1117.1" cy="402.8" r="3.15"/><circle cx="1119.5" cy="457.7" r="3.15"/><circle cx="1122.9" cy="437.5" r="3.15"/><circle cx="1119.3" cy="462.1" r="3.15"/><circle cx="1125.8" cy="449.6" r="3.15"/><circle cx="1118.9" cy="394.7" r="3.15"/><circle cx="1119.9" cy="423.1" r="3.15"/><circle cx="1118.7" cy="402.8" r="3.15"/><circle cx="1115.9" cy="467.0" r="3.15"/><circle cx="1116.7" cy="388.7" r="3.15"/><circle cx="1122.8" cy="372.1" r="3.15"/></g>
<line x1="983.60" y1="436.20" x2="1029.40" y2="436.20" stroke="#000" stroke-width="1.15" stroke-linecap="butt"/>
<line x1="983.60" y1="440.70" x2="1029.40" y2="440.70" stroke="#000" stroke-width="2.2" stroke-linecap="butt"/>
<line x1="983.60" y1="445.50" x2="1029.40" y2="445.50" stroke="#000" stroke-width="1.15" stroke-linecap="butt"/>
<line x1="1102.20" y1="439.00" x2="1144.70" y2="439.00" stroke="#000" stroke-width="1.15" stroke-linecap="butt"/>
<line x1="1102.20" y1="443.90" x2="1144.70" y2="443.90" stroke="#000" stroke-width="2.2" stroke-linecap="butt"/>
<line x1="1102.20" y1="448.40" x2="1144.70" y2="448.40" stroke="#000" stroke-width="1.15" stroke-linecap="butt"/>
<rect x="949.20" y="71.60" width="230.20" height="428.90" fill="none" stroke="#262626" stroke-width="2.1"/>
<line x1="1006.75" y1="500.50" x2="1006.75" y2="494.90" stroke="#262626" stroke-width="2.1" stroke-linecap="butt"/>
<line x1="1006.75" y1="71.60" x2="1006.75" y2="77.20" stroke="#262626" stroke-width="2.1" stroke-linecap="butt"/>
<line x1="1121.85" y1="500.50" x2="1121.85" y2="494.90" stroke="#262626" stroke-width="2.1" stroke-linecap="butt"/>
<line x1="1121.85" y1="71.60" x2="1121.85" y2="77.20" stroke="#262626" stroke-width="2.1" stroke-linecap="butt"/>
<line x1="949.20" y1="461.51" x2="954.80" y2="461.51" stroke="#262626" stroke-width="2.1" stroke-linecap="butt"/>
<line x1="1179.40" y1="461.51" x2="1173.80" y2="461.51" stroke="#262626" stroke-width="2.1" stroke-linecap="butt"/>
<line x1="949.20" y1="331.54" x2="954.80" y2="331.54" stroke="#262626" stroke-width="2.1" stroke-linecap="butt"/>
<line x1="1179.40" y1="331.54" x2="1173.80" y2="331.54" stroke="#262626" stroke-width="2.1" stroke-linecap="butt"/>
<line x1="949.20" y1="201.57" x2="954.80" y2="201.57" stroke="#262626" stroke-width="2.1" stroke-linecap="butt"/>
<line x1="1179.40" y1="201.57" x2="1173.80" y2="201.57" stroke="#262626" stroke-width="2.1" stroke-linecap="butt"/>
<text x="940.80" y="469.21" font-size="23.5" text-anchor="end" fill="#262626" stroke="#262626">0</text>
<text x="940.80" y="339.24" font-size="23.5" text-anchor="end" fill="#262626" stroke="#262626">5</text>
<text x="943.60" y="209.27" font-size="23.5" text-anchor="end" fill="#262626" stroke="#262626">10</text>
<text x="943.60" y="79.30" font-size="23.5" text-anchor="end" fill="#262626" stroke="#262626">15</text>
<text x="1058.80" y="64.10" font-size="24.0" text-anchor="middle" fill="#000" stroke="#000">Gamma</text>
<text x="1012.20" y="525.30" font-size="23.5" text-anchor="middle" fill="#262626" stroke="#262626">1</text>
<text x="1126.00" y="525.30" font-size="23.5" text-anchor="middle" fill="#262626" stroke="#262626">3</text>
<text x="1070.70" y="553.60" font-size="24.2" text-anchor="middle" fill="#262626" stroke="#262626">Memory load</text>
<path d="M1004.9 108.1V97.6H1122.8V108.1" stroke="#000" stroke-width="2.1" fill="none"/>
<text x="1064.60" y="93.50" font-size="24" text-anchor="middle" fill="#000" stroke="#000">ns</text>
<text x="1007.60" y="136.30" font-size="24" text-anchor="middle" fill="#000" stroke="#000">***</text>
<text x="1126.20" y="134.70" font-size="24" text-anchor="middle" fill="#000" stroke="#000">***</text>
<path d="M1342.5 144.0L1398.4 154.2M1342.5 255.4L1398.4 249.2M1342.5 283.0L1398.4 188.6M1342.5 293.5L1398.4 262.8M1342.5 329.3L1398.4 276.5M1342.5 465.8L1398.4 484.4M1342.5 480.6L1398.4 478.0M1342.5 483.1L1398.4 466.4M1342.5 474.0L1398.4 478.2M1342.5 459.0L1398.4 470.3M1342.5 483.8L1398.4 475.6M1342.5 486.1L1398.4 481.5M1342.5 485.7L1398.4 481.4M1342.5 467.0L1398.4 450.3M1342.5 474.1L1398.4 483.1M1342.5 466.3L1398.4 455.1M1342.5 478.4L1398.4 479.4M1342.5 480.4L1398.4 471.6M1342.5 486.2L1398.4 472.2M1342.5 486.6L1398.4 452.9M1342.5 479.3L1398.4 482.7M1342.5 470.3L1398.4 461.7M1342.5 476.8L1398.4 467.1M1342.5 453.1L1398.4 469.2M1342.5 481.4L1398.4 481.1M1342.5 476.9L1398.4 457.5M1342.5 480.5L1398.4 484.7M1342.5 484.0L1398.4 462.2M1342.5 474.3L1398.4 471.3M1342.5 472.9L1398.4 442.5M1342.5 478.4L1398.4 475.1M1342.5 455.9L1398.4 474.9M1342.5 482.1L1398.4 482.0M1342.5 475.8L1398.4 480.0M1342.5 471.7L1398.4 453.6M1342.5 481.7L1398.4 444.2M1342.5 485.0L1398.4 483.3M1342.5 471.8L1398.4 467.9M1342.5 473.7L1398.4 458.2M1342.5 472.3L1398.4 484.8M1342.5 466.4L1398.4 449.5M1342.5 443.3L1398.4 456.3M1342.5 479.9L1398.4 480.9M1342.5 473.6L1398.4 483.2M1342.5 479.4L1398.4 468.6M1342.5 485.9L1398.4 458.9M1342.5 481.1L1398.4 479.0M1342.5 474.0L1398.4 459.3M1342.5 482.0L1398.4 472.4M1342.5 470.2L1398.4 468.7M1342.5 470.9L1398.4 469.2M1342.5 474.0L1398.4 477.1M1342.5 468.1L1398.4 474.2M1342.5 471.8L1398.4 475.7M1342.5 473.2L1398.4 477.6M1342.5 482.8L1398.4 472.8M1342.5 440.9L1398.4 472.6M1342.5 449.4L1398.4 458.8M1342.5 467.8L1398.4 444.8M1342.5 444.0L1398.4 470.3M1342.5 405.6L1398.4 451.7M1342.5 462.0L1398.4 450.4M1342.5 480.1L1398.4 473.2M1342.5 466.4L1398.4 469.3M1342.5 473.0L1398.4 469.5M1342.5 468.7L1398.4 483.4M1342.5 463.6L1398.4 452.9M1342.5 474.1L1398.4 451.3M1342.5 463.7L1398.4 482.6M1342.5 479.7L1398.4 460.3M1342.5 456.7L1398.4 479.1M1342.5 453.5L1398.4 465.1M1342.5 477.4L1398.4 467.4M1342.5 471.9L1398.4 459.1M1342.5 470.7L1398.4 431.1M1342.5 453.2L1398.4 470.4M1342.5 457.6L1398.4 467.7M1342.5 433.2L1398.4 479.9M1342.5 459.7L1398.4 444.8M1342.5 468.1L1398.4 453.4M1342.5 475.7L1398.4 467.5M1342.5 475.0L1398.4 444.8M1342.5 443.2L1398.4 463.8M1342.5 449.9L1398.4 482.2M1342.5 465.5L1398.4 438.9M1342.5 464.9L1398.4 474.4M1342.5 454.8L1398.4 477.6M1342.5 482.1L1398.4 475.0M1342.5 452.5L1398.4 470.6M1342.5 453.6L1398.4 472.8M1342.5 415.5L1398.4 454.4M1342.5 474.5L1398.4 441.1M1342.5 431.0L1398.4 436.1M1342.5 463.7L1398.4 482.0M1342.5 479.7L1398.4 456.1M1342.5 471.9L1398.4 457.3M1342.5 447.7L1398.4 477.1M1342.5 444.4L1398.4 460.7M1342.5 434.8L1398.4 425.7M1342.5 482.6L1398.4 475.3M1342.5 454.0L1398.4 460.7M1342.5 452.2L1398.4 439.4M1342.5 480.7L1398.4 460.8M1342.5 468.3L1398.4 460.6M1342.5 443.4L1398.4 460.3M1342.5 450.0L1398.4 438.8M1342.5 439.9L1398.4 458.7M1342.5 479.0L1398.4 476.2M1342.5 476.0L1398.4 477.9M1342.5 450.9L1398.4 456.9M1342.5 446.0L1398.4 482.3M1342.5 466.6L1398.4 462.7M1342.5 441.3L1398.4 457.2M1342.5 401.5L1398.4 466.2M1342.5 482.1L1398.4 431.9M1342.5 456.7L1398.4 420.0M1342.5 473.1L1398.4 449.8M1342.5 455.0L1398.4 424.4M1342.5 479.4L1398.4 447.6M1342.5 482.1L1398.4 439.1M1342.5 476.2L1398.4 464.8M1342.5 450.5L1398.4 472.9M1342.5 478.2L1398.4 434.1M1342.5 433.4L1398.4 468.0M1342.5 463.7L1398.4 453.1M1342.5 447.1L1398.4 449.2M1342.5 439.7L1398.4 431.4M1342.5 451.8L1398.4 434.2M1342.5 443.6L1398.4 459.0M1342.5 464.0L1398.4 444.9M1342.5 462.2L1398.4 438.1M1342.5 449.6L1398.4 438.2M1342.5 433.0L1398.4 414.9M1342.5 440.0L1398.4 407.6M1342.5 463.5L1398.4 466.3M1342.5 447.6L1398.4 458.2M1342.5 461.0L1398.4 427.0M1342.5 429.4L1398.4 417.3M1342.5 468.6L1398.4 421.2M1342.5 404.1L1398.4 401.6M1342.5 397.0L1398.4 398.8M1342.5 439.6L1398.4 455.1M1342.5 417.7L1398.4 425.3M1342.5 419.4L1398.4 399.9M1342.5 401.8L1398.4 417.2M1342.5 437.5L1398.4 391.7M1342.5 408.9L1398.4 412.3M1342.5 414.9L1398.4 442.5M1342.5 406.0L1398.4 444.2M1342.5 429.1L1398.4 409.4M1342.5 445.3L1398.4 419.1M1342.5 390.8L1398.4 433.0M1342.5 415.3L1398.4 461.0M1342.5 378.7L1398.4 413.6M1342.5 433.6L1398.4 395.2M1342.5 388.5L1398.4 446.6M1342.5 371.0L1398.4 402.0M1342.5 419.2L1398.4 369.3M1342.5 431.8L1398.4 397.5M1342.5 392.8L1398.4 361.6M1342.5 363.8L1398.4 391.0M1342.5 427.7L1398.4 425.8M1342.5 355.1L1398.4 368.9M1342.5 407.4L1398.4 393.3M1342.5 360.2L1398.4 404.2M1342.5 358.0L1398.4 415.5M1342.5 388.0L1398.4 345.0M1342.5 366.7L1398.4 348.2M1342.5 345.0L1398.4 325.0M1342.5 341.3L1398.4 388.5M1342.5 382.0L1398.4 393.7M1342.5 333.3L1398.4 329.3M1342.5 334.8L1398.4 371.4" stroke="#808080" stroke-width="1.35" fill="none"/>
<g fill="#cb30b4"><circle cx="1319.7" cy="144.0" r="3.15"/><circle cx="1317.1" cy="255.4" r="3.15"/><circle cx="1319.3" cy="283.0" r="3.15"/><circle cx="1314.6" cy="293.5" r="3.15"/><circle cx="1314.5" cy="329.3" r="3.15"/><circle cx="1309.6" cy="465.8" r="3.15"/><circle cx="1319.0" cy="480.6" r="3.15"/><circle cx="1315.0" cy="483.1" r="3.15"/><circle cx="1313.7" cy="474.0" r="3.15"/><circle cx="1310.4" cy="459.0" r="3.15"/><circle cx="1314.8" cy="483.8" r="3.15"/><circle cx="1314.5" cy="486.1" r="3.15"/><circle cx="1313.5" cy="485.7" r="3.15"/><circle cx="1318.6" cy="467.0" r="3.15"/><circle cx="1311.4" cy="474.1" r="3.15"/><circle cx="1317.0" cy="466.3" r="3.15"/><circle cx="1314.0" cy="478.4" r="3.15"/><circle cx="1316.3" cy="480.4" r="3.15"/><circle cx="1309.8" cy="486.2" r="3.15"/><circle cx="1316.2" cy="486.6" r="3.15"/><circle cx="1310.8" cy="479.3" r="3.15"/><circle cx="1311.4" cy="470.3" r="3.15"/><circle cx="1312.8" cy="476.8" r="3.15"/><circle cx="1310.6" cy="453.1" r="3.15"/><circle cx="1310.2" cy="481.4" r="3.15"/><circle cx="1311.7" cy="476.9" r="3.15"/><circle cx="1317.3" cy="480.5" r="3.15"/><circle cx="1313.3" cy="484.0" r="3.15"/><circle cx="1311.1" cy="474.3" r="3.15"/><circle cx="1312.0" cy="472.9" r="3.15"/><circle cx="1311.8" cy="478.4" r="3.15"/><circle cx="1309.3" cy="455.9" r="3.15"/><circle cx="1315.2" cy="482.1" r="3.15"/><circle cx="1316.4" cy="475.8" r="3.15"/><circle cx="1312.8" cy="471.7" r="3.15"/><circle cx="1316.5" cy="481.7" r="3.15"/><circle cx="1309.3" cy="485.0" r="3.15"/><circle cx="1313.7" cy="471.8" r="3.15"/><circle cx="1311.8" cy="473.7" r="3.15"/><circle cx="1317.2" cy="472.3" r="3.15"/><circle cx="1317.4" cy="466.4" r="3.15"/><circle cx="1311.6" cy="443.3" r="3.15"/><circle cx="1309.8" cy="479.9" r="3.15"/><circle cx="1310.0" cy="473.6" r="3.15"/><circle cx="1311.9" cy="479.4" r="3.15"/><circle cx="1317.7" cy="485.9" r="3.15"/><circle cx="1312.5" cy="481.1" r="3.15"/><circle cx="1310.7" cy="474.0" r="3.15"/><circle cx="1315.2" cy="482.0" r="3.15"/><circle cx="1310.6" cy="470.2" r="3.15"/><circle cx="1310.5" cy="470.9" r="3.15"/><circle cx="1316.6" cy="474.0" r="3.15"/><circle cx="1313.5" cy="468.1" r="3.15"/><circle cx="1318.4" cy="471.8" r="3.15"/><circle cx="1311.3" cy="473.2" r="3.15"/><circle cx="1313.1" cy="482.8" r="3.15"/><circle cx="1318.7" cy="440.9" r="3.15"/><circle cx="1309.9" cy="449.4" r="3.15"/><circle cx="1310.0" cy="467.8" r="3.15"/><circle cx="1311.3" cy="444.0" r="3.15"/><circle cx="1313.3" cy="405.6" r="3.15"/><circle cx="1314.8" cy="462.0" r="3.15"/><circle cx="1317.2" cy="480.1" r="3.15"/><circle cx="1311.8" cy="466.4" r="3.15"/><circle cx="1315.3" cy="473.0" r="3.15"/><circle cx="1315.5" cy="468.7" r="3.15"/><circle cx="1316.4" cy="463.6" r="3.15"/><circle cx="1315.5" cy="474.1" r="3.15"/><circle cx="1314.0" cy="463.7" r="3.15"/><circle cx="1318.5" cy="479.7" r="3.15"/><circle cx="1311.6" cy="456.7" r="3.15"/><circle cx="1312.4" cy="453.5" r="3.15"/><circle cx="1311.9" cy="477.4" r="3.15"/><circle cx="1311.5" cy="471.9" r="3.15"/><circle cx="1309.3" cy="470.7" r="3.15"/><circle cx="1311.0" cy="453.2" r="3.15"/><circle cx="1316.1" cy="457.6" r="3.15"/><circle cx="1313.5" cy="433.2" r="3.15"/><circle cx="1315.3" cy="459.7" r="3.15"/><circle cx="1313.4" cy="468.1" r="3.15"/><circle cx="1310.3" cy="475.7" r="3.15"/><circle cx="1313.8" cy="475.0" r="3.15"/><circle cx="1316.1" cy="443.2" r="3.15"/><circle cx="1310.4" cy="449.9" r="3.15"/><circle cx="1310.3" cy="465.5" r="3.15"/><circle cx="1313.5" cy="464.9" r="3.15"/><circle cx="1310.7" cy="454.8" r="3.15"/><circle cx="1310.3" cy="482.1" r="3.15"/><circle cx="1309.3" cy="452.5" r="3.15"/><circle cx="1313.0" cy="453.6" r="3.15"/><circle cx="1315.2" cy="415.5" r="3.15"/><circle cx="1313.7" cy="474.5" r="3.15"/><circle cx="1317.1" cy="431.0" r="3.15"/><circle cx="1311.9" cy="463.7" r="3.15"/><circle cx="1313.2" cy="479.7" r="3.15"/><circle cx="1312.8" cy="471.9" r="3.15"/><circle cx="1314.8" cy="447.7" r="3.15"/><circle cx="1316.8" cy="444.4" r="3.15"/><circle cx="1310.5" cy="434.8" r="3.15"/><circle cx="1311.5" cy="482.6" r="3.15"/><circle cx="1312.4" cy="454.0" r="3.15"/><circle cx="1313.3" cy="452.2" r="3.15"/><circle cx="1312.8" cy="480.7" r="3.15"/><circle cx="1313.4" cy="468.3" r="3.15"/><circle cx="1319.3" cy="443.4" r="3.15"/><circle cx="1319.2" cy="450.0" r="3.15"/><circle cx="1317.5" cy="439.9" r="3.15"/><circle cx="1311.3" cy="479.0" r="3.15"/><circle cx="1309.6" cy="476.0" r="3.15"/><circle cx="1314.5" cy="450.9" r="3.15"/><circle cx="1316.8" cy="446.0" r="3.15"/><circle cx="1315.5" cy="466.6" r="3.15"/><circle cx="1311.3" cy="441.3" r="3.15"/><circle cx="1312.0" cy="401.5" r="3.15"/><circle cx="1311.6" cy="482.1" r="3.15"/><circle cx="1310.8" cy="456.7" r="3.15"/><circle cx="1315.5" cy="473.1" r="3.15"/><circle cx="1315.8" cy="455.0" r="3.15"/><circle cx="1317.1" cy="479.4" r="3.15"/><circle cx="1318.9" cy="482.1" r="3.15"/><circle cx="1317.3" cy="476.2" r="3.15"/><circle cx="1315.7" cy="450.5" r="3.15"/><circle cx="1316.5" cy="478.2" r="3.15"/><circle cx="1309.3" cy="433.4" r="3.15"/><circle cx="1315.5" cy="463.7" r="3.15"/><circle cx="1314.1" cy="447.1" r="3.15"/><circle cx="1312.2" cy="439.7" r="3.15"/><circle cx="1312.8" cy="451.8" r="3.15"/><circle cx="1310.7" cy="443.6" r="3.15"/><circle cx="1315.6" cy="464.0" r="3.15"/><circle cx="1317.4" cy="462.2" r="3.15"/><circle cx="1317.5" cy="449.6" r="3.15"/><circle cx="1309.8" cy="433.0" r="3.15"/><circle cx="1311.1" cy="440.0" r="3.15"/><circle cx="1314.6" cy="463.5" r="3.15"/><circle cx="1315.2" cy="447.6" r="3.15"/><circle cx="1310.9" cy="461.0" r="3.15"/><circle cx="1317.0" cy="429.4" r="3.15"/><circle cx="1318.7" cy="468.6" r="3.15"/><circle cx="1313.4" cy="404.1" r="3.15"/><circle cx="1312.6" cy="397.0" r="3.15"/><circle cx="1315.5" cy="439.6" r="3.15"/><circle cx="1310.8" cy="417.7" r="3.15"/><circle cx="1309.7" cy="419.4" r="3.15"/><circle cx="1313.1" cy="401.8" r="3.15"/><circle cx="1311.6" cy="437.5" r="3.15"/><circle cx="1315.0" cy="408.9" r="3.15"/><circle cx="1312.1" cy="414.9" r="3.15"/><circle cx="1315.8" cy="406.0" r="3.15"/><circle cx="1317.4" cy="429.1" r="3.15"/><circle cx="1317.7" cy="445.3" r="3.15"/><circle cx="1319.0" cy="390.8" r="3.15"/><circle cx="1315.9" cy="415.3" r="3.15"/><circle cx="1309.6" cy="378.7" r="3.15"/><circle cx="1316.6" cy="433.6" r="3.15"/><circle cx="1316.9" cy="388.5" r="3.15"/><circle cx="1317.1" cy="371.0" r="3.15"/><circle cx="1314.0" cy="419.2" r="3.15"/><circle cx="1314.1" cy="431.8" r="3.15"/><circle cx="1309.5" cy="392.8" r="3.15"/><circle cx="1313.7" cy="363.8" r="3.15"/><circle cx="1309.7" cy="427.7" r="3.15"/><circle cx="1319.0" cy="355.1" r="3.15"/><circle cx="1316.3" cy="407.4" r="3.15"/><circle cx="1318.2" cy="360.2" r="3.15"/><circle cx="1317.1" cy="358.0" r="3.15"/><circle cx="1312.9" cy="388.0" r="3.15"/><circle cx="1310.6" cy="366.7" r="3.15"/><circle cx="1312.5" cy="345.0" r="3.15"/><circle cx="1314.4" cy="341.3" r="3.15"/><circle cx="1318.2" cy="382.0" r="3.15"/><circle cx="1317.6" cy="333.3" r="3.15"/><circle cx="1311.3" cy="334.8" r="3.15"/></g>
<g fill="#1c3c9e"><circle cx="1423.5" cy="154.2" r="3.15"/><circle cx="1420.9" cy="249.2" r="3.15"/><circle cx="1430.7" cy="188.6" r="3.15"/><circle cx="1422.7" cy="262.8" r="3.15"/><circle cx="1424.2" cy="276.5" r="3.15"/><circle cx="1423.5" cy="484.4" r="3.15"/><circle cx="1426.7" cy="478.0" r="3.15"/><circle cx="1423.5" cy="466.4" r="3.15"/><circle cx="1423.6" cy="478.2" r="3.15"/><circle cx="1423.8" cy="470.3" r="3.15"/><circle cx="1426.2" cy="475.6" r="3.15"/><circle cx="1424.4" cy="481.5" r="3.15"/><circle cx="1429.9" cy="481.4" r="3.15"/><circle cx="1430.1" cy="450.3" r="3.15"/><circle cx="1427.4" cy="483.1" r="3.15"/><circle cx="1424.2" cy="455.1" r="3.15"/><circle cx="1429.7" cy="479.4" r="3.15"/><circle cx="1428.4" cy="471.6" r="3.15"/><circle cx="1421.3" cy="472.2" r="3.15"/><circle cx="1426.8" cy="452.9" r="3.15"/><circle cx="1420.8" cy="482.7" r="3.15"/><circle cx="1427.3" cy="461.7" r="3.15"/><circle cx="1427.6" cy="467.1" r="3.15"/><circle cx="1427.5" cy="469.2" r="3.15"/><circle cx="1430.1" cy="481.1" r="3.15"/><circle cx="1420.8" cy="457.5" r="3.15"/><circle cx="1424.1" cy="484.7" r="3.15"/><circle cx="1422.3" cy="462.2" r="3.15"/><circle cx="1424.9" cy="471.3" r="3.15"/><circle cx="1426.1" cy="442.5" r="3.15"/><circle cx="1425.3" cy="475.1" r="3.15"/><circle cx="1426.0" cy="474.9" r="3.15"/><circle cx="1430.1" cy="482.0" r="3.15"/><circle cx="1421.6" cy="480.0" r="3.15"/><circle cx="1428.7" cy="453.6" r="3.15"/><circle cx="1421.4" cy="444.2" r="3.15"/><circle cx="1426.0" cy="483.3" r="3.15"/><circle cx="1422.2" cy="467.9" r="3.15"/><circle cx="1424.4" cy="458.2" r="3.15"/><circle cx="1423.5" cy="484.8" r="3.15"/><circle cx="1429.5" cy="449.5" r="3.15"/><circle cx="1429.7" cy="456.3" r="3.15"/><circle cx="1424.8" cy="480.9" r="3.15"/><circle cx="1424.2" cy="483.2" r="3.15"/><circle cx="1428.7" cy="468.6" r="3.15"/><circle cx="1424.3" cy="458.9" r="3.15"/><circle cx="1430.8" cy="479.0" r="3.15"/><circle cx="1425.7" cy="459.3" r="3.15"/><circle cx="1427.6" cy="472.4" r="3.15"/><circle cx="1424.1" cy="468.7" r="3.15"/><circle cx="1428.7" cy="469.2" r="3.15"/><circle cx="1429.3" cy="477.1" r="3.15"/><circle cx="1421.0" cy="474.2" r="3.15"/><circle cx="1421.9" cy="475.7" r="3.15"/><circle cx="1421.1" cy="477.6" r="3.15"/><circle cx="1428.0" cy="472.8" r="3.15"/><circle cx="1426.5" cy="472.6" r="3.15"/><circle cx="1430.0" cy="458.8" r="3.15"/><circle cx="1422.9" cy="444.8" r="3.15"/><circle cx="1430.0" cy="470.3" r="3.15"/><circle cx="1429.6" cy="451.7" r="3.15"/><circle cx="1425.8" cy="450.4" r="3.15"/><circle cx="1423.0" cy="473.2" r="3.15"/><circle cx="1430.3" cy="469.3" r="3.15"/><circle cx="1424.8" cy="469.5" r="3.15"/><circle cx="1428.6" cy="483.4" r="3.15"/><circle cx="1426.1" cy="452.9" r="3.15"/><circle cx="1423.3" cy="451.3" r="3.15"/><circle cx="1430.0" cy="482.6" r="3.15"/><circle cx="1421.0" cy="460.3" r="3.15"/><circle cx="1423.5" cy="479.1" r="3.15"/><circle cx="1424.0" cy="465.1" r="3.15"/><circle cx="1425.7" cy="467.4" r="3.15"/><circle cx="1428.4" cy="459.1" r="3.15"/><circle cx="1430.8" cy="431.1" r="3.15"/><circle cx="1430.1" cy="470.4" r="3.15"/><circle cx="1430.0" cy="467.7" r="3.15"/><circle cx="1424.2" cy="479.9" r="3.15"/><circle cx="1422.8" cy="444.8" r="3.15"/><circle cx="1426.4" cy="453.4" r="3.15"/><circle cx="1429.1" cy="467.5" r="3.15"/><circle cx="1426.3" cy="444.8" r="3.15"/><circle cx="1430.1" cy="463.8" r="3.15"/><circle cx="1422.8" cy="482.2" r="3.15"/><circle cx="1430.8" cy="438.9" r="3.15"/><circle cx="1428.3" cy="474.4" r="3.15"/><circle cx="1430.5" cy="477.6" r="3.15"/><circle cx="1427.8" cy="475.0" r="3.15"/><circle cx="1429.8" cy="470.6" r="3.15"/><circle cx="1427.3" cy="472.8" r="3.15"/><circle cx="1422.9" cy="454.4" r="3.15"/><circle cx="1420.8" cy="441.1" r="3.15"/><circle cx="1425.5" cy="436.1" r="3.15"/><circle cx="1424.9" cy="482.0" r="3.15"/><circle cx="1422.5" cy="456.1" r="3.15"/><circle cx="1427.8" cy="457.3" r="3.15"/><circle cx="1431.1" cy="477.1" r="3.15"/><circle cx="1429.4" cy="460.7" r="3.15"/><circle cx="1426.2" cy="425.7" r="3.15"/><circle cx="1423.3" cy="475.3" r="3.15"/><circle cx="1426.7" cy="460.7" r="3.15"/><circle cx="1424.9" cy="439.4" r="3.15"/><circle cx="1431.1" cy="460.8" r="3.15"/><circle cx="1430.4" cy="460.6" r="3.15"/><circle cx="1427.3" cy="460.3" r="3.15"/><circle cx="1431.2" cy="438.8" r="3.15"/><circle cx="1428.2" cy="458.7" r="3.15"/><circle cx="1422.7" cy="476.2" r="3.15"/><circle cx="1423.1" cy="477.9" r="3.15"/><circle cx="1425.3" cy="456.9" r="3.15"/><circle cx="1423.9" cy="482.3" r="3.15"/><circle cx="1424.6" cy="462.7" r="3.15"/><circle cx="1428.9" cy="457.2" r="3.15"/><circle cx="1426.2" cy="466.2" r="3.15"/><circle cx="1427.5" cy="431.9" r="3.15"/><circle cx="1421.5" cy="420.0" r="3.15"/><circle cx="1425.9" cy="449.8" r="3.15"/><circle cx="1421.6" cy="424.4" r="3.15"/><circle cx="1421.3" cy="447.6" r="3.15"/><circle cx="1430.6" cy="439.1" r="3.15"/><circle cx="1424.1" cy="464.8" r="3.15"/><circle cx="1431.1" cy="472.9" r="3.15"/><circle cx="1427.7" cy="434.1" r="3.15"/><circle cx="1421.2" cy="468.0" r="3.15"/><circle cx="1425.6" cy="453.1" r="3.15"/><circle cx="1422.8" cy="449.2" r="3.15"/><circle cx="1430.1" cy="431.4" r="3.15"/><circle cx="1430.9" cy="434.2" r="3.15"/><circle cx="1426.3" cy="459.0" r="3.15"/><circle cx="1427.9" cy="444.9" r="3.15"/><circle cx="1428.7" cy="438.1" r="3.15"/><circle cx="1421.4" cy="438.2" r="3.15"/><circle cx="1422.2" cy="414.9" r="3.15"/><circle cx="1428.3" cy="407.6" r="3.15"/><circle cx="1428.2" cy="466.3" r="3.15"/><circle cx="1426.6" cy="458.2" r="3.15"/><circle cx="1429.7" cy="427.0" r="3.15"/><circle cx="1428.7" cy="417.3" r="3.15"/><circle cx="1424.9" cy="421.2" r="3.15"/><circle cx="1425.7" cy="401.6" r="3.15"/><circle cx="1426.1" cy="398.8" r="3.15"/><circle cx="1426.9" cy="455.1" r="3.15"/><circle cx="1428.3" cy="425.3" r="3.15"/><circle cx="1423.0" cy="399.9" r="3.15"/><circle cx="1429.4" cy="417.2" r="3.15"/><circle cx="1429.4" cy="391.7" r="3.15"/><circle cx="1428.1" cy="412.3" r="3.15"/><circle cx="1430.9" cy="442.5" r="3.15"/><circle cx="1421.6" cy="444.2" r="3.15"/><circle cx="1425.7" cy="409.4" r="3.15"/><circle cx="1428.1" cy="419.1" r="3.15"/><circle cx="1430.3" cy="433.0" r="3.15"/><circle cx="1428.8" cy="461.0" r="3.15"/><circle cx="1429.1" cy="413.6" r="3.15"/><circle cx="1430.6" cy="395.2" r="3.15"/><circle cx="1427.2" cy="446.6" r="3.15"/><circle cx="1427.1" cy="402.0" r="3.15"/><circle cx="1431.0" cy="369.3" r="3.15"/><circle cx="1421.9" cy="397.5" r="3.15"/><circle cx="1424.6" cy="361.6" r="3.15"/><circle cx="1426.6" cy="391.0" r="3.15"/><circle cx="1426.5" cy="425.8" r="3.15"/><circle cx="1428.6" cy="368.9" r="3.15"/><circle cx="1426.2" cy="393.3" r="3.15"/><circle cx="1421.7" cy="404.2" r="3.15"/><circle cx="1428.2" cy="415.5" r="3.15"/><circle cx="1425.9" cy="345.0" r="3.15"/><circle cx="1420.9" cy="348.2" r="3.15"/><circle cx="1424.3" cy="325.0" r="3.15"/><circle cx="1424.4" cy="388.5" r="3.15"/><circle cx="1422.3" cy="393.7" r="3.15"/><circle cx="1426.5" cy="329.3" r="3.15"/><circle cx="1429.9" cy="371.4" r="3.15"/></g>
<line x1="1291.70" y1="432.70" x2="1336.70" y2="432.70" stroke="#000" stroke-width="1.15" stroke-linecap="butt"/>
<line x1="1291.70" y1="436.00" x2="1336.70" y2="436.00" stroke="#000" stroke-width="2.2" stroke-linecap="butt"/>
<line x1="1291.70" y1="439.30" x2="1336.70" y2="439.30" stroke="#000" stroke-width="1.15" stroke-linecap="butt"/>
<line x1="1403.90" y1="434.90" x2="1448.90" y2="434.90" stroke="#000" stroke-width="1.15" stroke-linecap="butt"/>
<line x1="1403.90" y1="438.20" x2="1448.90" y2="438.20" stroke="#000" stroke-width="2.2" stroke-linecap="butt"/>
<line x1="1403.90" y1="441.80" x2="1448.90" y2="441.80" stroke="#000" stroke-width="1.15" stroke-linecap="butt"/>
<rect x="1258.50" y="71.30" width="224.30" height="430.00" fill="none" stroke="#262626" stroke-width="2.1"/>
<line x1="1314.58" y1="501.30" x2="1314.58" y2="495.70" stroke="#262626" stroke-width="2.1" stroke-linecap="butt"/>
<line x1="1314.58" y1="71.30" x2="1314.58" y2="76.90" stroke="#262626" stroke-width="2.1" stroke-linecap="butt"/>
<line x1="1426.72" y1="501.30" x2="1426.72" y2="495.70" stroke="#262626" stroke-width="2.1" stroke-linecap="butt"/>
<line x1="1426.72" y1="71.30" x2="1426.72" y2="76.90" stroke="#262626" stroke-width="2.1" stroke-linecap="butt"/>
<line x1="1258.50" y1="462.21" x2="1264.10" y2="462.21" stroke="#262626" stroke-width="2.1" stroke-linecap="butt"/>
<line x1="1482.80" y1="462.21" x2="1477.20" y2="462.21" stroke="#262626" stroke-width="2.1" stroke-linecap="butt"/>
<line x1="1258.50" y1="423.12" x2="1264.10" y2="423.12" stroke="#262626" stroke-width="2.1" stroke-linecap="butt"/>
<line x1="1482.80" y1="423.12" x2="1477.20" y2="423.12" stroke="#262626" stroke-width="2.1" stroke-linecap="butt"/>
<line x1="1258.50" y1="384.03" x2="1264.10" y2="384.03" stroke="#262626" stroke-width="2.1" stroke-linecap="butt"/>
<line x1="1482.80" y1="384.03" x2="1477.20" y2="384.03" stroke="#262626" stroke-width="2.1" stroke-linecap="butt"/>
<line x1="1258.50" y1="344.94" x2="1264.10" y2="344.94" stroke="#262626" stroke-width="2.1" stroke-linecap="butt"/>
<line x1="1482.80" y1="344.94" x2="1477.20" y2="344.94" stroke="#262626" stroke-width="2.1" stroke-linecap="butt"/>
<line x1="1258.50" y1="305.85" x2="1264.10" y2="305.85" stroke="#262626" stroke-width="2.1" stroke-linecap="butt"/>
<line x1="1482.80" y1="305.85" x2="1477.20" y2="305.85" stroke="#262626" stroke-width="2.1" stroke-linecap="butt"/>
<line x1="1258.50" y1="266.75" x2="1264.10" y2="266.75" stroke="#262626" stroke-width="2.1" stroke-linecap="butt"/>
<line x1="1482.80" y1="266.75" x2="1477.20" y2="266.75" stroke="#262626" stroke-width="2.1" stroke-linecap="butt"/>
<line x1="1258.50" y1="227.66" x2="1264.10" y2="227.66" stroke="#262626" stroke-width="2.1" stroke-linecap="butt"/>
<line x1="1482.80" y1="227.66" x2="1477.20" y2="227.66" stroke="#262626" stroke-width="2.1" stroke-linecap="butt"/>
<line x1="1258.50" y1="188.57" x2="1264.10" y2="188.57" stroke="#262626" stroke-width="2.1" stroke-linecap="butt"/>
<line x1="1482.80" y1="188.57" x2="1477.20" y2="188.57" stroke="#262626" stroke-width="2.1" stroke-linecap="butt"/>
<line x1="1258.50" y1="149.48" x2="1264.10" y2="149.48" stroke="#262626" stroke-width="2.1" stroke-linecap="butt"/>
<line x1="1482.80" y1="149.48" x2="1477.20" y2="149.48" stroke="#262626" stroke-width="2.1" stroke-linecap="butt"/>
<line x1="1258.50" y1="110.39" x2="1264.10" y2="110.39" stroke="#262626" stroke-width="2.1" stroke-linecap="butt"/>
<line x1="1482.80" y1="110.39" x2="1477.20" y2="110.39" stroke="#262626" stroke-width="2.1" stroke-linecap="butt"/>
<text x="1250.30" y="469.31" font-size="23.5" text-anchor="end" fill="#262626" stroke="#262626">0</text>
<text x="1250.30" y="391.13" font-size="23.5" text-anchor="end" fill="#262626" stroke="#262626">4</text>
<text x="1250.30" y="312.95" font-size="23.5" text-anchor="end" fill="#262626" stroke="#262626">8</text>
<text x="1253.10" y="234.76" font-size="23.5" text-anchor="end" fill="#262626" stroke="#262626">12</text>
<text x="1253.10" y="156.58" font-size="23.5" text-anchor="end" fill="#262626" stroke="#262626">16</text>
<text x="1253.10" y="78.40" font-size="23.5" text-anchor="end" fill="#262626" stroke="#262626">20</text>
<text x="1368.50" y="64.10" font-size="24.0" text-anchor="middle" fill="#000" stroke="#000">Theta</text>
<text x="1314.90" y="525.40" font-size="23.5" text-anchor="middle" fill="#262626" stroke="#262626">1</text>
<text x="1426.50" y="525.40" font-size="23.5" text-anchor="middle" fill="#262626" stroke="#262626">3</text>
<text x="1375.90" y="555.20" font-size="24.2" text-anchor="middle" fill="#262626" stroke="#262626">Memory load</text>
<path d="M1313.3 107.0V95.7H1430.4V107.0" stroke="#000" stroke-width="2.1" fill="none"/>
<text x="1372.80" y="92.20" font-size="24" text-anchor="middle" fill="#000" stroke="#000">ns</text>
<text x="1313.50" y="133.60" font-size="24" text-anchor="middle" fill="#000" stroke="#000">***</text>
<text x="1431.80" y="133.60" font-size="24" text-anchor="middle" fill="#000" stroke="#000">***</text>
<text x="1222.7" y="320.0" font-size="24.2" fill="#262626" stroke="#262626" transform="rotate(-90 1222.7 320.0)">SFC (z)</text>
<path d="M1620.4 187.6L1678.5 172.7M1620.4 190.5L1678.5 179.6M1620.4 210.1L1678.5 192.7M1620.4 213.0L1678.5 205.0M1620.4 217.3L1678.5 198.2M1620.4 219.5L1678.5 224.0M1620.4 222.8L1678.5 226.3M1620.4 231.4L1678.5 242.4M1620.4 285.2L1678.5 333.1M1620.4 290.7L1678.5 291.1M1620.4 480.0L1678.5 461.9M1620.4 475.6L1678.5 474.6M1620.4 478.4L1678.5 463.5M1620.4 473.0L1678.5 473.4M1620.4 456.5L1678.5 464.1M1620.4 469.8L1678.5 471.3M1620.4 477.6L1678.5 471.1M1620.4 477.8L1678.5 451.5M1620.4 476.9L1678.5 475.1M1620.4 470.3L1678.5 471.4M1620.4 476.0L1678.5 460.9M1620.4 469.0L1678.5 474.2M1620.4 479.1L1678.5 475.0M1620.4 478.3L1678.5 466.7M1620.4 473.3L1678.5 466.0M1620.4 476.1L1678.5 467.3M1620.4 475.7L1678.5 475.6M1620.4 456.0L1678.5 472.2M1620.4 461.6L1678.5 447.7M1620.4 474.1L1678.5 470.0M1620.4 460.0L1678.5 458.8M1620.4 478.7L1678.5 472.7M1620.4 470.4L1678.5 466.2M1620.4 479.2L1678.5 473.3M1620.4 473.0L1678.5 468.3M1620.4 474.1L1678.5 470.2M1620.4 476.1L1678.5 456.8M1620.4 478.4L1678.5 471.7M1620.4 459.0L1678.5 475.7M1620.4 463.4L1678.5 471.0M1620.4 472.1L1678.5 467.0M1620.4 451.1L1678.5 463.9M1620.4 472.1L1678.5 462.9M1620.4 472.7L1678.5 458.6M1620.4 465.1L1678.5 466.0M1620.4 462.2L1678.5 467.2M1620.4 462.0L1678.5 465.2M1620.4 478.3L1678.5 466.5M1620.4 464.1L1678.5 469.0M1620.4 477.3L1678.5 469.0M1620.4 475.3L1678.5 473.2M1620.4 459.9L1678.5 460.7M1620.4 481.0L1678.5 467.8M1620.4 465.1L1678.5 466.1M1620.4 456.6L1678.5 456.9M1620.4 441.2L1678.5 473.3M1620.4 473.3L1678.5 468.1M1620.4 473.6L1678.5 472.9M1620.4 473.5L1678.5 452.5M1620.4 428.9L1678.5 473.9M1620.4 479.9L1678.5 453.4M1620.4 476.3L1678.5 456.1M1620.4 469.1L1678.5 428.9M1620.4 479.1L1678.5 457.6M1620.4 475.2L1678.5 473.7M1620.4 468.9L1678.5 469.8M1620.4 471.8L1678.5 445.8M1620.4 439.9L1678.5 464.1M1620.4 460.4L1678.5 476.7M1620.4 470.1L1678.5 466.8M1620.4 480.3L1678.5 469.0M1620.4 479.0L1678.5 474.4M1620.4 465.6L1678.5 441.5M1620.4 476.3L1678.5 463.7M1620.4 468.8L1678.5 461.2M1620.4 475.0L1678.5 440.1M1620.4 476.5L1678.5 467.1M1620.4 449.0L1678.5 458.8M1620.4 472.1L1678.5 461.0M1620.4 437.4L1678.5 439.7M1620.4 477.6L1678.5 435.1M1620.4 463.7L1678.5 464.4M1620.4 444.5L1678.5 476.4M1620.4 449.8L1678.5 452.2M1620.4 456.8L1678.5 450.6M1620.4 463.6L1678.5 467.0M1620.4 459.1L1678.5 449.4M1620.4 480.5L1678.5 449.4M1620.4 445.2L1678.5 465.7M1620.4 462.9L1678.5 466.9M1620.4 464.0L1678.5 474.7M1620.4 464.1L1678.5 446.4M1620.4 454.0L1678.5 465.1M1620.4 459.8L1678.5 470.9M1620.4 447.8L1678.5 453.2M1620.4 479.0L1678.5 446.1M1620.4 468.0L1678.5 465.9M1620.4 463.7L1678.5 460.8M1620.4 441.2L1678.5 473.8M1620.4 471.1L1678.5 458.9M1620.4 442.9L1678.5 473.0M1620.4 462.5L1678.5 457.2M1620.4 474.2L1678.5 430.9M1620.4 465.8L1678.5 451.3M1620.4 461.0L1678.5 436.6M1620.4 457.6L1678.5 448.5M1620.4 454.7L1678.5 456.3M1620.4 446.7L1678.5 451.7M1620.4 454.5L1678.5 465.9M1620.4 459.2L1678.5 459.8M1620.4 447.6L1678.5 406.0M1620.4 434.1L1678.5 456.8M1620.4 450.3L1678.5 469.8M1620.4 449.6L1678.5 452.9M1620.4 440.1L1678.5 439.4M1620.4 463.5L1678.5 437.0M1620.4 451.8L1678.5 463.0M1620.4 477.0L1678.5 464.6M1620.4 470.5L1678.5 462.8M1620.4 463.2L1678.5 477.1M1620.4 465.1L1678.5 455.9M1620.4 459.3L1678.5 460.7M1620.4 452.4L1678.5 454.8M1620.4 430.5L1678.5 463.7M1620.4 467.9L1678.5 451.7M1620.4 418.7L1678.5 455.6M1620.4 473.2L1678.5 466.3M1620.4 444.1L1678.5 452.8M1620.4 461.3L1678.5 449.3M1620.4 455.6L1678.5 427.3M1620.4 426.2L1678.5 441.8M1620.4 456.2L1678.5 418.0M1620.4 466.1L1678.5 449.4M1620.4 455.3L1678.5 461.7M1620.4 459.6L1678.5 417.1M1620.4 444.9L1678.5 459.1M1620.4 434.8L1678.5 447.0M1620.4 453.3L1678.5 471.2M1620.4 458.8L1678.5 428.9M1620.4 470.8L1678.5 469.3M1620.4 463.9L1678.5 474.8M1620.4 433.8L1678.5 425.8M1620.4 430.9L1678.5 442.9M1620.4 461.2L1678.5 448.1M1620.4 420.2L1678.5 440.0M1620.4 414.0L1678.5 415.5M1620.4 431.3L1678.5 442.1M1620.4 457.4L1678.5 439.9M1620.4 458.7L1678.5 475.9M1620.4 442.3L1678.5 435.3M1620.4 471.2L1678.5 461.7M1620.4 450.9L1678.5 450.7M1620.4 390.0L1678.5 436.7M1620.4 448.2L1678.5 426.1M1620.4 427.2L1678.5 434.0M1620.4 421.4L1678.5 446.6M1620.4 434.6L1678.5 417.6M1620.4 427.9L1678.5 445.5M1620.4 431.2L1678.5 431.7M1620.4 419.2L1678.5 432.5M1620.4 414.7L1678.5 407.1M1620.4 387.8L1678.5 397.6M1620.4 428.2L1678.5 448.0M1620.4 419.3L1678.5 425.2M1620.4 426.3L1678.5 446.3M1620.4 424.2L1678.5 418.2M1620.4 417.5L1678.5 417.6M1620.4 441.5L1678.5 471.1M1620.4 448.2L1678.5 424.6M1620.4 409.3L1678.5 401.3M1620.4 382.4L1678.5 415.9M1620.4 380.6L1678.5 395.8M1620.4 412.2L1678.5 428.5M1620.4 415.2L1678.5 366.8M1620.4 369.7L1678.5 372.6M1620.4 394.0L1678.5 354.8M1620.4 365.0L1678.5 390.4M1620.4 400.2L1678.5 410.4M1620.4 360.2L1678.5 387.5M1620.4 373.3L1678.5 361.3M1620.4 327.2L1678.5 392.2M1620.4 335.9L1678.5 354.0" stroke="#808080" stroke-width="1.35" fill="none"/>
<g fill="#cb30b4"><circle cx="1586.7" cy="187.6" r="3.15"/><circle cx="1595.4" cy="190.5" r="3.15"/><circle cx="1591.0" cy="210.1" r="3.15"/><circle cx="1592.1" cy="213.0" r="3.15"/><circle cx="1589.2" cy="217.3" r="3.15"/><circle cx="1587.0" cy="219.5" r="3.15"/><circle cx="1594.3" cy="222.8" r="3.15"/><circle cx="1588.1" cy="231.4" r="3.15"/><circle cx="1590.3" cy="285.2" r="3.15"/><circle cx="1596.8" cy="290.7" r="3.15"/><circle cx="1594.6" cy="480.0" r="3.15"/><circle cx="1591.5" cy="475.6" r="3.15"/><circle cx="1588.4" cy="478.4" r="3.15"/><circle cx="1592.9" cy="473.0" r="3.15"/><circle cx="1591.7" cy="456.5" r="3.15"/><circle cx="1588.4" cy="469.8" r="3.15"/><circle cx="1592.9" cy="477.6" r="3.15"/><circle cx="1588.7" cy="477.8" r="3.15"/><circle cx="1589.8" cy="476.9" r="3.15"/><circle cx="1593.9" cy="470.3" r="3.15"/><circle cx="1594.2" cy="476.0" r="3.15"/><circle cx="1587.3" cy="469.0" r="3.15"/><circle cx="1587.7" cy="479.1" r="3.15"/><circle cx="1587.0" cy="478.3" r="3.15"/><circle cx="1590.8" cy="473.3" r="3.15"/><circle cx="1594.0" cy="476.1" r="3.15"/><circle cx="1586.7" cy="475.7" r="3.15"/><circle cx="1596.4" cy="456.0" r="3.15"/><circle cx="1594.7" cy="461.6" r="3.15"/><circle cx="1594.2" cy="474.1" r="3.15"/><circle cx="1591.4" cy="460.0" r="3.15"/><circle cx="1590.5" cy="478.7" r="3.15"/><circle cx="1594.8" cy="470.4" r="3.15"/><circle cx="1588.3" cy="479.2" r="3.15"/><circle cx="1592.3" cy="473.0" r="3.15"/><circle cx="1594.4" cy="474.1" r="3.15"/><circle cx="1589.7" cy="476.1" r="3.15"/><circle cx="1591.5" cy="478.4" r="3.15"/><circle cx="1595.0" cy="459.0" r="3.15"/><circle cx="1589.4" cy="463.4" r="3.15"/><circle cx="1586.8" cy="472.1" r="3.15"/><circle cx="1594.2" cy="451.1" r="3.15"/><circle cx="1588.4" cy="472.1" r="3.15"/><circle cx="1589.6" cy="472.7" r="3.15"/><circle cx="1592.8" cy="465.1" r="3.15"/><circle cx="1590.7" cy="462.2" r="3.15"/><circle cx="1592.1" cy="462.0" r="3.15"/><circle cx="1587.3" cy="478.3" r="3.15"/><circle cx="1586.4" cy="464.1" r="3.15"/><circle cx="1590.0" cy="477.3" r="3.15"/><circle cx="1592.3" cy="475.3" r="3.15"/><circle cx="1596.1" cy="459.9" r="3.15"/><circle cx="1591.2" cy="481.0" r="3.15"/><circle cx="1595.8" cy="465.1" r="3.15"/><circle cx="1594.0" cy="456.6" r="3.15"/><circle cx="1590.1" cy="441.2" r="3.15"/><circle cx="1594.0" cy="473.3" r="3.15"/><circle cx="1594.1" cy="473.6" r="3.15"/><circle cx="1586.4" cy="473.5" r="3.15"/><circle cx="1596.4" cy="428.9" r="3.15"/><circle cx="1590.3" cy="479.9" r="3.15"/><circle cx="1595.9" cy="476.3" r="3.15"/><circle cx="1592.9" cy="469.1" r="3.15"/><circle cx="1590.9" cy="479.1" r="3.15"/><circle cx="1590.0" cy="475.2" r="3.15"/><circle cx="1588.4" cy="468.9" r="3.15"/><circle cx="1593.5" cy="471.8" r="3.15"/><circle cx="1594.9" cy="439.9" r="3.15"/><circle cx="1589.2" cy="460.4" r="3.15"/><circle cx="1586.4" cy="470.1" r="3.15"/><circle cx="1592.4" cy="480.3" r="3.15"/><circle cx="1596.4" cy="479.0" r="3.15"/><circle cx="1591.5" cy="465.6" r="3.15"/><circle cx="1589.3" cy="476.3" r="3.15"/><circle cx="1590.4" cy="468.8" r="3.15"/><circle cx="1594.7" cy="475.0" r="3.15"/><circle cx="1587.8" cy="476.5" r="3.15"/><circle cx="1595.8" cy="449.0" r="3.15"/><circle cx="1587.0" cy="472.1" r="3.15"/><circle cx="1592.5" cy="437.4" r="3.15"/><circle cx="1588.0" cy="477.6" r="3.15"/><circle cx="1595.8" cy="463.7" r="3.15"/><circle cx="1593.7" cy="444.5" r="3.15"/><circle cx="1592.4" cy="449.8" r="3.15"/><circle cx="1592.1" cy="456.8" r="3.15"/><circle cx="1595.2" cy="463.6" r="3.15"/><circle cx="1591.4" cy="459.1" r="3.15"/><circle cx="1594.4" cy="480.5" r="3.15"/><circle cx="1586.9" cy="445.2" r="3.15"/><circle cx="1591.9" cy="462.9" r="3.15"/><circle cx="1586.5" cy="464.0" r="3.15"/><circle cx="1593.1" cy="464.1" r="3.15"/><circle cx="1593.1" cy="454.0" r="3.15"/><circle cx="1588.9" cy="459.8" r="3.15"/><circle cx="1596.2" cy="447.8" r="3.15"/><circle cx="1591.3" cy="479.0" r="3.15"/><circle cx="1590.0" cy="468.0" r="3.15"/><circle cx="1587.8" cy="463.7" r="3.15"/><circle cx="1591.9" cy="441.2" r="3.15"/><circle cx="1595.6" cy="471.1" r="3.15"/><circle cx="1592.4" cy="442.9" r="3.15"/><circle cx="1591.8" cy="462.5" r="3.15"/><circle cx="1587.9" cy="474.2" r="3.15"/><circle cx="1590.7" cy="465.8" r="3.15"/><circle cx="1589.8" cy="461.0" r="3.15"/><circle cx="1592.0" cy="457.6" r="3.15"/><circle cx="1587.3" cy="454.7" r="3.15"/><circle cx="1587.3" cy="446.7" r="3.15"/><circle cx="1591.3" cy="454.5" r="3.15"/><circle cx="1592.1" cy="459.2" r="3.15"/><circle cx="1595.7" cy="447.6" r="3.15"/><circle cx="1591.0" cy="434.1" r="3.15"/><circle cx="1592.3" cy="450.3" r="3.15"/><circle cx="1591.7" cy="449.6" r="3.15"/><circle cx="1589.1" cy="440.1" r="3.15"/><circle cx="1594.2" cy="463.5" r="3.15"/><circle cx="1596.2" cy="451.8" r="3.15"/><circle cx="1589.5" cy="477.0" r="3.15"/><circle cx="1590.8" cy="470.5" r="3.15"/><circle cx="1587.1" cy="463.2" r="3.15"/><circle cx="1587.9" cy="465.1" r="3.15"/><circle cx="1588.1" cy="459.3" r="3.15"/><circle cx="1586.6" cy="452.4" r="3.15"/><circle cx="1590.1" cy="430.5" r="3.15"/><circle cx="1589.6" cy="467.9" r="3.15"/><circle cx="1588.6" cy="418.7" r="3.15"/><circle cx="1594.1" cy="473.2" r="3.15"/><circle cx="1595.6" cy="444.1" r="3.15"/><circle cx="1587.9" cy="461.3" r="3.15"/><circle cx="1591.2" cy="455.6" r="3.15"/><circle cx="1590.3" cy="426.2" r="3.15"/><circle cx="1594.4" cy="456.2" r="3.15"/><circle cx="1594.9" cy="466.1" r="3.15"/><circle cx="1586.3" cy="455.3" r="3.15"/><circle cx="1587.7" cy="459.6" r="3.15"/><circle cx="1586.4" cy="444.9" r="3.15"/><circle cx="1593.2" cy="434.8" r="3.15"/><circle cx="1595.9" cy="453.3" r="3.15"/><circle cx="1596.1" cy="458.8" r="3.15"/><circle cx="1587.8" cy="470.8" r="3.15"/><circle cx="1586.9" cy="463.9" r="3.15"/><circle cx="1588.8" cy="433.8" r="3.15"/><circle cx="1587.4" cy="430.9" r="3.15"/><circle cx="1590.1" cy="461.2" r="3.15"/><circle cx="1593.9" cy="420.2" r="3.15"/><circle cx="1588.6" cy="414.0" r="3.15"/><circle cx="1587.8" cy="431.3" r="3.15"/><circle cx="1592.1" cy="457.4" r="3.15"/><circle cx="1588.3" cy="458.7" r="3.15"/><circle cx="1596.6" cy="442.3" r="3.15"/><circle cx="1591.3" cy="471.2" r="3.15"/><circle cx="1586.5" cy="450.9" r="3.15"/><circle cx="1588.7" cy="390.0" r="3.15"/><circle cx="1588.6" cy="448.2" r="3.15"/><circle cx="1592.9" cy="427.2" r="3.15"/><circle cx="1589.8" cy="421.4" r="3.15"/><circle cx="1592.1" cy="434.6" r="3.15"/><circle cx="1594.1" cy="427.9" r="3.15"/><circle cx="1588.9" cy="431.2" r="3.15"/><circle cx="1586.2" cy="419.2" r="3.15"/><circle cx="1590.5" cy="414.7" r="3.15"/><circle cx="1587.9" cy="387.8" r="3.15"/><circle cx="1589.4" cy="428.2" r="3.15"/><circle cx="1594.9" cy="419.3" r="3.15"/><circle cx="1588.0" cy="426.3" r="3.15"/><circle cx="1592.2" cy="424.2" r="3.15"/><circle cx="1591.6" cy="417.5" r="3.15"/><circle cx="1587.9" cy="441.5" r="3.15"/><circle cx="1595.5" cy="448.2" r="3.15"/><circle cx="1590.8" cy="409.3" r="3.15"/><circle cx="1595.9" cy="382.4" r="3.15"/><circle cx="1594.4" cy="380.6" r="3.15"/><circle cx="1592.3" cy="412.2" r="3.15"/><circle cx="1591.7" cy="415.2" r="3.15"/><circle cx="1592.4" cy="369.7" r="3.15"/><circle cx="1589.3" cy="394.0" r="3.15"/><circle cx="1596.4" cy="365.0" r="3.15"/><circle cx="1588.3" cy="400.2" r="3.15"/><circle cx="1592.5" cy="360.2" r="3.15"/><circle cx="1595.5" cy="373.3" r="3.15"/><circle cx="1593.8" cy="327.2" r="3.15"/><circle cx="1590.0" cy="335.9" r="3.15"/></g>
<g fill="#1c3c9e"><circle cx="1712.7" cy="172.7" r="3.15"/><circle cx="1707.6" cy="179.6" r="3.15"/><circle cx="1712.3" cy="192.7" r="3.15"/><circle cx="1709.7" cy="205.0" r="3.15"/><circle cx="1706.1" cy="198.2" r="3.15"/><circle cx="1705.4" cy="224.0" r="3.15"/><circle cx="1704.0" cy="226.3" r="3.15"/><circle cx="1702.1" cy="242.4" r="3.15"/><circle cx="1705.8" cy="333.1" r="3.15"/><circle cx="1702.5" cy="291.1" r="3.15"/><circle cx="1711.2" cy="461.9" r="3.15"/><circle cx="1710.6" cy="474.6" r="3.15"/><circle cx="1706.2" cy="463.5" r="3.15"/><circle cx="1702.3" cy="473.4" r="3.15"/><circle cx="1710.9" cy="464.1" r="3.15"/><circle cx="1702.1" cy="471.3" r="3.15"/><circle cx="1708.9" cy="471.1" r="3.15"/><circle cx="1705.4" cy="451.5" r="3.15"/><circle cx="1702.9" cy="475.1" r="3.15"/><circle cx="1704.2" cy="471.4" r="3.15"/><circle cx="1708.8" cy="460.9" r="3.15"/><circle cx="1709.8" cy="474.2" r="3.15"/><circle cx="1708.8" cy="475.0" r="3.15"/><circle cx="1708.0" cy="466.7" r="3.15"/><circle cx="1707.5" cy="466.0" r="3.15"/><circle cx="1709.7" cy="467.3" r="3.15"/><circle cx="1703.7" cy="475.6" r="3.15"/><circle cx="1706.6" cy="472.2" r="3.15"/><circle cx="1707.7" cy="447.7" r="3.15"/><circle cx="1702.7" cy="470.0" r="3.15"/><circle cx="1709.8" cy="458.8" r="3.15"/><circle cx="1709.4" cy="472.7" r="3.15"/><circle cx="1710.5" cy="466.2" r="3.15"/><circle cx="1711.4" cy="473.3" r="3.15"/><circle cx="1703.9" cy="468.3" r="3.15"/><circle cx="1704.6" cy="470.2" r="3.15"/><circle cx="1706.3" cy="456.8" r="3.15"/><circle cx="1703.8" cy="471.7" r="3.15"/><circle cx="1710.5" cy="475.7" r="3.15"/><circle cx="1712.1" cy="471.0" r="3.15"/><circle cx="1703.3" cy="467.0" r="3.15"/><circle cx="1704.5" cy="463.9" r="3.15"/><circle cx="1702.2" cy="462.9" r="3.15"/><circle cx="1702.8" cy="458.6" r="3.15"/><circle cx="1702.1" cy="466.0" r="3.15"/><circle cx="1711.2" cy="467.2" r="3.15"/><circle cx="1705.4" cy="465.2" r="3.15"/><circle cx="1711.9" cy="466.5" r="3.15"/><circle cx="1707.2" cy="469.0" r="3.15"/><circle cx="1710.0" cy="469.0" r="3.15"/><circle cx="1711.8" cy="473.2" r="3.15"/><circle cx="1709.6" cy="460.7" r="3.15"/><circle cx="1707.6" cy="467.8" r="3.15"/><circle cx="1709.7" cy="466.1" r="3.15"/><circle cx="1711.8" cy="456.9" r="3.15"/><circle cx="1710.6" cy="473.3" r="3.15"/><circle cx="1706.0" cy="468.1" r="3.15"/><circle cx="1703.1" cy="472.9" r="3.15"/><circle cx="1711.1" cy="452.5" r="3.15"/><circle cx="1706.5" cy="473.9" r="3.15"/><circle cx="1704.4" cy="453.4" r="3.15"/><circle cx="1704.7" cy="456.1" r="3.15"/><circle cx="1710.5" cy="428.9" r="3.15"/><circle cx="1712.0" cy="457.6" r="3.15"/><circle cx="1710.1" cy="473.7" r="3.15"/><circle cx="1707.0" cy="469.8" r="3.15"/><circle cx="1704.6" cy="445.8" r="3.15"/><circle cx="1711.8" cy="464.1" r="3.15"/><circle cx="1707.1" cy="476.7" r="3.15"/><circle cx="1706.2" cy="466.8" r="3.15"/><circle cx="1703.7" cy="469.0" r="3.15"/><circle cx="1703.8" cy="474.4" r="3.15"/><circle cx="1702.1" cy="441.5" r="3.15"/><circle cx="1710.4" cy="463.7" r="3.15"/><circle cx="1710.9" cy="461.2" r="3.15"/><circle cx="1706.5" cy="440.1" r="3.15"/><circle cx="1710.4" cy="467.1" r="3.15"/><circle cx="1704.5" cy="458.8" r="3.15"/><circle cx="1710.8" cy="461.0" r="3.15"/><circle cx="1704.7" cy="439.7" r="3.15"/><circle cx="1707.2" cy="435.1" r="3.15"/><circle cx="1703.7" cy="464.4" r="3.15"/><circle cx="1704.6" cy="476.4" r="3.15"/><circle cx="1706.6" cy="452.2" r="3.15"/><circle cx="1703.4" cy="450.6" r="3.15"/><circle cx="1712.2" cy="467.0" r="3.15"/><circle cx="1706.2" cy="449.4" r="3.15"/><circle cx="1703.7" cy="449.4" r="3.15"/><circle cx="1709.4" cy="465.7" r="3.15"/><circle cx="1708.6" cy="466.9" r="3.15"/><circle cx="1711.0" cy="474.7" r="3.15"/><circle cx="1703.2" cy="446.4" r="3.15"/><circle cx="1712.2" cy="465.1" r="3.15"/><circle cx="1711.8" cy="470.9" r="3.15"/><circle cx="1710.8" cy="453.2" r="3.15"/><circle cx="1706.6" cy="446.1" r="3.15"/><circle cx="1710.2" cy="465.9" r="3.15"/><circle cx="1707.5" cy="460.8" r="3.15"/><circle cx="1711.7" cy="473.8" r="3.15"/><circle cx="1707.0" cy="458.9" r="3.15"/><circle cx="1709.4" cy="473.0" r="3.15"/><circle cx="1704.9" cy="457.2" r="3.15"/><circle cx="1707.9" cy="430.9" r="3.15"/><circle cx="1704.8" cy="451.3" r="3.15"/><circle cx="1702.4" cy="436.6" r="3.15"/><circle cx="1702.8" cy="448.5" r="3.15"/><circle cx="1710.0" cy="456.3" r="3.15"/><circle cx="1709.3" cy="451.7" r="3.15"/><circle cx="1704.5" cy="465.9" r="3.15"/><circle cx="1707.4" cy="459.8" r="3.15"/><circle cx="1712.0" cy="406.0" r="3.15"/><circle cx="1705.8" cy="456.8" r="3.15"/><circle cx="1703.2" cy="469.8" r="3.15"/><circle cx="1703.0" cy="452.9" r="3.15"/><circle cx="1709.9" cy="439.4" r="3.15"/><circle cx="1707.0" cy="437.0" r="3.15"/><circle cx="1703.6" cy="463.0" r="3.15"/><circle cx="1708.2" cy="464.6" r="3.15"/><circle cx="1708.7" cy="462.8" r="3.15"/><circle cx="1709.5" cy="477.1" r="3.15"/><circle cx="1704.8" cy="455.9" r="3.15"/><circle cx="1709.5" cy="460.7" r="3.15"/><circle cx="1712.2" cy="454.8" r="3.15"/><circle cx="1704.4" cy="463.7" r="3.15"/><circle cx="1707.2" cy="451.7" r="3.15"/><circle cx="1709.9" cy="455.6" r="3.15"/><circle cx="1708.5" cy="466.3" r="3.15"/><circle cx="1709.5" cy="452.8" r="3.15"/><circle cx="1704.7" cy="449.3" r="3.15"/><circle cx="1705.2" cy="427.3" r="3.15"/><circle cx="1706.9" cy="441.8" r="3.15"/><circle cx="1707.7" cy="418.0" r="3.15"/><circle cx="1708.3" cy="449.4" r="3.15"/><circle cx="1712.3" cy="461.7" r="3.15"/><circle cx="1706.1" cy="417.1" r="3.15"/><circle cx="1707.5" cy="459.1" r="3.15"/><circle cx="1705.0" cy="447.0" r="3.15"/><circle cx="1703.6" cy="471.2" r="3.15"/><circle cx="1710.2" cy="428.9" r="3.15"/><circle cx="1703.1" cy="469.3" r="3.15"/><circle cx="1708.0" cy="474.8" r="3.15"/><circle cx="1712.1" cy="425.8" r="3.15"/><circle cx="1710.4" cy="442.9" r="3.15"/><circle cx="1702.2" cy="448.1" r="3.15"/><circle cx="1708.1" cy="440.0" r="3.15"/><circle cx="1705.7" cy="415.5" r="3.15"/><circle cx="1703.4" cy="442.1" r="3.15"/><circle cx="1707.6" cy="439.9" r="3.15"/><circle cx="1705.1" cy="475.9" r="3.15"/><circle cx="1705.7" cy="435.3" r="3.15"/><circle cx="1703.7" cy="461.7" r="3.15"/><circle cx="1708.4" cy="450.7" r="3.15"/><circle cx="1709.7" cy="436.7" r="3.15"/><circle cx="1705.8" cy="426.1" r="3.15"/><circle cx="1709.2" cy="434.0" r="3.15"/><circle cx="1709.6" cy="446.6" r="3.15"/><circle cx="1710.5" cy="417.6" r="3.15"/><circle cx="1710.5" cy="445.5" r="3.15"/><circle cx="1702.8" cy="431.7" r="3.15"/><circle cx="1705.4" cy="432.5" r="3.15"/><circle cx="1704.8" cy="407.1" r="3.15"/><circle cx="1706.4" cy="397.6" r="3.15"/><circle cx="1702.3" cy="448.0" r="3.15"/><circle cx="1707.4" cy="425.2" r="3.15"/><circle cx="1705.4" cy="446.3" r="3.15"/><circle cx="1703.0" cy="418.2" r="3.15"/><circle cx="1709.7" cy="417.6" r="3.15"/><circle cx="1707.3" cy="471.1" r="3.15"/><circle cx="1709.3" cy="424.6" r="3.15"/><circle cx="1702.3" cy="401.3" r="3.15"/><circle cx="1712.2" cy="415.9" r="3.15"/><circle cx="1704.4" cy="395.8" r="3.15"/><circle cx="1710.4" cy="428.5" r="3.15"/><circle cx="1712.1" cy="366.8" r="3.15"/><circle cx="1702.1" cy="372.6" r="3.15"/><circle cx="1712.4" cy="354.8" r="3.15"/><circle cx="1711.6" cy="390.4" r="3.15"/><circle cx="1704.6" cy="410.4" r="3.15"/><circle cx="1702.4" cy="387.5" r="3.15"/><circle cx="1707.1" cy="361.3" r="3.15"/><circle cx="1708.4" cy="392.2" r="3.15"/><circle cx="1711.4" cy="354.0" r="3.15"/></g>
<line x1="1568.90" y1="430.30" x2="1614.60" y2="430.30" stroke="#000" stroke-width="1.15" stroke-linecap="butt"/>
<line x1="1568.90" y1="434.70" x2="1614.60" y2="434.70" stroke="#000" stroke-width="2.2" stroke-linecap="butt"/>
<line x1="1568.90" y1="439.00" x2="1614.60" y2="439.00" stroke="#000" stroke-width="1.15" stroke-linecap="butt"/>
<line x1="1684.30" y1="428.90" x2="1730.40" y2="428.90" stroke="#000" stroke-width="1.15" stroke-linecap="butt"/>
<line x1="1684.30" y1="433.20" x2="1730.40" y2="433.20" stroke="#000" stroke-width="2.2" stroke-linecap="butt"/>
<line x1="1684.30" y1="438.00" x2="1730.40" y2="438.00" stroke="#000" stroke-width="1.15" stroke-linecap="butt"/>
<rect x="1534.00" y="69.50" width="231.70" height="430.20" fill="none" stroke="#262626" stroke-width="2.1"/>
<line x1="1591.92" y1="499.70" x2="1591.92" y2="494.10" stroke="#262626" stroke-width="2.1" stroke-linecap="butt"/>
<line x1="1591.92" y1="69.50" x2="1591.92" y2="75.10" stroke="#262626" stroke-width="2.1" stroke-linecap="butt"/>
<line x1="1707.78" y1="499.70" x2="1707.78" y2="494.10" stroke="#262626" stroke-width="2.1" stroke-linecap="butt"/>
<line x1="1707.78" y1="69.50" x2="1707.78" y2="75.10" stroke="#262626" stroke-width="2.1" stroke-linecap="butt"/>
<line x1="1534.00" y1="460.59" x2="1539.60" y2="460.59" stroke="#262626" stroke-width="2.1" stroke-linecap="butt"/>
<line x1="1765.70" y1="460.59" x2="1760.10" y2="460.59" stroke="#262626" stroke-width="2.1" stroke-linecap="butt"/>
<line x1="1534.00" y1="421.48" x2="1539.60" y2="421.48" stroke="#262626" stroke-width="2.1" stroke-linecap="butt"/>
<line x1="1765.70" y1="421.48" x2="1760.10" y2="421.48" stroke="#262626" stroke-width="2.1" stroke-linecap="butt"/>
<line x1="1534.00" y1="382.37" x2="1539.60" y2="382.37" stroke="#262626" stroke-width="2.1" stroke-linecap="butt"/>
<line x1="1765.70" y1="382.37" x2="1760.10" y2="382.37" stroke="#262626" stroke-width="2.1" stroke-linecap="butt"/>
<line x1="1534.00" y1="343.26" x2="1539.60" y2="343.26" stroke="#262626" stroke-width="2.1" stroke-linecap="butt"/>
<line x1="1765.70" y1="343.26" x2="1760.10" y2="343.26" stroke="#262626" stroke-width="2.1" stroke-linecap="butt"/>
<line x1="1534.00" y1="304.15" x2="1539.60" y2="304.15" stroke="#262626" stroke-width="2.1" stroke-linecap="butt"/>
<line x1="1765.70" y1="304.15" x2="1760.10" y2="304.15" stroke="#262626" stroke-width="2.1" stroke-linecap="butt"/>
<line x1="1534.00" y1="265.05" x2="1539.60" y2="265.05" stroke="#262626" stroke-width="2.1" stroke-linecap="butt"/>
<line x1="1765.70" y1="265.05" x2="1760.10" y2="265.05" stroke="#262626" stroke-width="2.1" stroke-linecap="butt"/>
<line x1="1534.00" y1="225.94" x2="1539.60" y2="225.94" stroke="#262626" stroke-width="2.1" stroke-linecap="butt"/>
<line x1="1765.70" y1="225.94" x2="1760.10" y2="225.94" stroke="#262626" stroke-width="2.1" stroke-linecap="butt"/>
<line x1="1534.00" y1="186.83" x2="1539.60" y2="186.83" stroke="#262626" stroke-width="2.1" stroke-linecap="butt"/>
<line x1="1765.70" y1="186.83" x2="1760.10" y2="186.83" stroke="#262626" stroke-width="2.1" stroke-linecap="butt"/>
<line x1="1534.00" y1="147.72" x2="1539.60" y2="147.72" stroke="#262626" stroke-width="2.1" stroke-linecap="butt"/>
<line x1="1765.70" y1="147.72" x2="1760.10" y2="147.72" stroke="#262626" stroke-width="2.1" stroke-linecap="butt"/>
<line x1="1534.00" y1="108.61" x2="1539.60" y2="108.61" stroke="#262626" stroke-width="2.1" stroke-linecap="butt"/>
<line x1="1765.70" y1="108.61" x2="1760.10" y2="108.61" stroke="#262626" stroke-width="2.1" stroke-linecap="butt"/>
<text x="1525.50" y="468.29" font-size="23.5" text-anchor="end" fill="#262626" stroke="#262626">0</text>
<text x="1525.50" y="390.07" font-size="23.5" text-anchor="end" fill="#262626" stroke="#262626">4</text>
<text x="1525.50" y="311.85" font-size="23.5" text-anchor="end" fill="#262626" stroke="#262626">8</text>
<text x="1528.30" y="233.64" font-size="23.5" text-anchor="end" fill="#262626" stroke="#262626">12</text>
<text x="1528.30" y="155.42" font-size="23.5" text-anchor="end" fill="#262626" stroke="#262626">16</text>
<text x="1528.30" y="77.20" font-size="23.5" text-anchor="end" fill="#262626" stroke="#262626">20</text>
<text x="1650.60" y="62.50" font-size="24.0" text-anchor="middle" fill="#000" stroke="#000">Gamma</text>
<text x="1592.00" y="524.40" font-size="23.5" text-anchor="middle" fill="#262626" stroke="#262626">1</text>
<text x="1710.50" y="524.40" font-size="23.5" text-anchor="middle" fill="#262626" stroke="#262626">3</text>
<text x="1653.00" y="554.80" font-size="24.2" text-anchor="middle" fill="#262626" stroke="#262626">Memory load</text>
<path d="M1595.4 108.4V97.5H1713.0V108.4" stroke="#000" stroke-width="2.1" fill="none"/>
<text x="1655.20" y="93.20" font-size="24" text-anchor="middle" fill="#000" stroke="#000">ns</text>
<text x="1595.30" y="135.50" font-size="24" text-anchor="middle" fill="#000" stroke="#000">***</text>
<text x="1714.20" y="133.60" font-size="24" text-anchor="middle" fill="#000" stroke="#000">***</text>
<g fill="none" stroke="#dedede" stroke-width="4.1"><circle cx="1943.3" cy="176.4" r="25.85"/><circle cx="1943.3" cy="176.4" r="51.7"/><circle cx="1943.3" cy="176.4" r="77.55"/><circle cx="1943.3" cy="176.4" r="103.4"/><line x1="1839.90" y1="176.40" x2="2046.70" y2="176.40"/><line x1="1853.75" y1="228.10" x2="2032.85" y2="124.70"/><line x1="1891.60" y1="265.95" x2="1995.00" y2="86.85"/><line x1="1943.30" y1="279.80" x2="1943.30" y2="73.00"/><line x1="1995.00" y1="265.95" x2="1891.60" y2="86.85"/><line x1="2032.85" y1="228.10" x2="1853.75" y2="124.70"/></g>
<path d="M1943.30 176.40L2004.30 176.40L2001.31 157.55ZM1943.30 176.40L2005.12 156.31L1995.89 138.19ZM1943.30 176.40L1969.43 157.41L1962.29 150.27ZM1943.30 176.40L1950.94 165.88L1947.32 164.04ZM1943.30 176.40L1947.01 164.99L1943.30 164.40ZM1943.30 176.40L1943.30 164.40L1939.59 164.99ZM1943.30 176.40L1938.82 162.61L1934.78 164.67ZM1943.30 176.40L1934.48 164.26L1931.16 167.58ZM1943.30 176.40L1934.40 169.93L1932.84 173.00ZM1943.30 176.40L1933.79 173.31L1933.30 176.40ZM1943.30 176.40L1921.50 176.40L1922.57 183.14ZM1943.30 176.40L1924.85 182.39L1927.61 187.80ZM1943.30 176.40L1927.69 187.74L1931.96 192.01ZM1943.30 176.40L1935.07 187.73L1938.97 189.71ZM1943.30 176.40L1938.48 191.24L1943.30 192.00ZM1943.30 176.40L1943.30 192.00L1948.12 191.24ZM1943.30 176.40L1950.22 197.70L1956.47 194.52ZM1943.30 176.40L1958.82 197.76L1964.66 191.92ZM1943.30 176.40L1985.37 206.96L1992.75 192.47ZM1943.30 176.40L2016.72 200.26L2020.50 176.40Z" fill="none" stroke="#000" stroke-width="2.0" stroke-linejoin="miter"/>
<line x1="1943.30" y1="176.40" x2="1973.73" y2="178.53" stroke="#e8141c" stroke-width="4.3" stroke-linecap="butt"/>
<text x="1945.50" y="69.10" font-size="21.0" text-anchor="middle" fill="#000" stroke="#000">90</text>
<text x="1980.60" y="64.90" font-size="21.0" text-anchor="middle" fill="#000" stroke="#000">0.2</text>
<text x="1889.50" y="85.40" font-size="21.0" text-anchor="middle" fill="#000" stroke="#000">120</text>
<text x="2002.50" y="85.20" font-size="21.0" text-anchor="middle" fill="#000" stroke="#000">60</text>
<text x="1968.80" y="115.90" font-size="21.0" text-anchor="middle" fill="#000" stroke="#000">0.1</text>
<text x="1848.30" y="127.40" font-size="21.0" text-anchor="middle" fill="#000" stroke="#000">150</text>
<text x="2043.30" y="127.60" font-size="21.0" text-anchor="middle" fill="#000" stroke="#000">30</text>
<text x="1832.30" y="183.40" font-size="21.0" text-anchor="middle" fill="#000" stroke="#000">180</text>
<text x="2057.90" y="182.90" font-size="21.0" text-anchor="middle" fill="#000" stroke="#000">0</text>
<text x="1847.80" y="239.90" font-size="21.0" text-anchor="middle" fill="#000" stroke="#000">210</text>
<text x="2044.20" y="239.60" font-size="21.0" text-anchor="middle" fill="#000" stroke="#000">330</text>
<text x="1889.10" y="281.60" font-size="21.0" text-anchor="middle" fill="#000" stroke="#000">240</text>
<text x="2003.30" y="281.40" font-size="21.0" text-anchor="middle" fill="#000" stroke="#000">300</text>
<text x="1945.90" y="297.50" font-size="21.0" text-anchor="middle" fill="#000" stroke="#000">270</text>
<g fill="none" stroke="#dedede" stroke-width="4.1"><circle cx="1952.3" cy="474.8" r="25.85"/><circle cx="1952.3" cy="474.8" r="51.7"/><circle cx="1952.3" cy="474.8" r="77.55"/><circle cx="1952.3" cy="474.8" r="103.4"/><line x1="1848.90" y1="474.80" x2="2055.70" y2="474.80"/><line x1="1862.75" y1="526.50" x2="2041.85" y2="423.10"/><line x1="1900.60" y1="564.35" x2="2004.00" y2="385.25"/><line x1="1952.30" y1="578.20" x2="1952.30" y2="371.40"/><line x1="2004.00" y1="564.35" x2="1900.60" y2="385.25"/><line x1="2041.85" y1="526.50" x2="1862.75" y2="423.10"/></g>
<path d="M1952.30 474.80L2050.30 474.80L2045.50 444.52ZM1952.30 474.80L2008.41 456.57L2000.03 440.12ZM1952.30 474.80L1994.61 444.06L1983.04 432.49ZM1952.30 474.80L1963.76 459.02L1958.33 456.25ZM1952.30 474.80L1956.10 463.10L1952.30 462.50ZM1952.30 474.80L1952.30 462.50L1948.50 463.10ZM1952.30 474.80L1946.43 456.73L1941.13 459.43ZM1952.30 474.80L1944.07 463.47L1940.97 466.57ZM1952.30 474.80L1941.78 467.16L1939.94 470.78ZM1952.30 474.80L1939.56 470.66L1938.90 474.80ZM1952.30 474.80L1939.30 474.80L1939.94 478.82ZM1952.30 474.80L1933.47 480.92L1936.28 486.44ZM1952.30 474.80L1945.83 479.50L1947.60 481.27ZM1952.30 474.80L1947.60 481.27L1949.83 482.41ZM1952.30 474.80L1946.21 493.54L1952.30 494.50ZM1952.30 474.80L1952.30 520.30L1966.36 518.07ZM1952.30 474.80L1958.17 492.87L1963.47 490.17ZM1952.30 474.80L1968.35 496.89L1974.39 490.85ZM1952.30 474.80L1975.76 491.85L1979.88 483.76ZM1952.30 474.80L1989.87 487.01L1991.80 474.80Z" fill="none" stroke="#000" stroke-width="2.0" stroke-linejoin="miter"/>
<line x1="1952.30" y1="474.80" x2="1994.23" y2="472.38" stroke="#e8141c" stroke-width="4.3" stroke-linecap="butt"/>
<text x="1954.50" y="367.50" font-size="21.0" text-anchor="middle" fill="#000" stroke="#000">90</text>
<text x="1989.60" y="363.30" font-size="21.0" text-anchor="middle" fill="#000" stroke="#000">0.2</text>
<text x="1898.50" y="383.80" font-size="21.0" text-anchor="middle" fill="#000" stroke="#000">120</text>
<text x="2011.50" y="383.60" font-size="21.0" text-anchor="middle" fill="#000" stroke="#000">60</text>
<text x="1980.30" y="414.30" font-size="21.0" text-anchor="middle" fill="#000" stroke="#000">0.1</text>
<text x="1857.30" y="425.80" font-size="21.0" text-anchor="middle" fill="#000" stroke="#000">150</text>
<text x="2052.30" y="426.00" font-size="21.0" text-anchor="middle" fill="#000" stroke="#000">30</text>
<text x="1841.30" y="481.80" font-size="21.0" text-anchor="middle" fill="#000" stroke="#000">180</text>
<text x="2066.90" y="481.30" font-size="21.0" text-anchor="middle" fill="#000" stroke="#000">0</text>
<text x="1856.80" y="538.30" font-size="21.0" text-anchor="middle" fill="#000" stroke="#000">210</text>
<text x="2053.20" y="538.00" font-size="21.0" text-anchor="middle" fill="#000" stroke="#000">330</text>
<text x="1898.10" y="580.00" font-size="21.0" text-anchor="middle" fill="#000" stroke="#000">240</text>
<text x="2012.30" y="579.80" font-size="21.0" text-anchor="middle" fill="#000" stroke="#000">300</text>
<text x="1954.90" y="595.90" font-size="21.0" text-anchor="middle" fill="#000" stroke="#000">270</text>
<text x="1948.50" y="337.50" font-size="29.0" text-anchor="middle" fill="#000" stroke="#000">Amygdala</text>
</svg>
</body></html>
